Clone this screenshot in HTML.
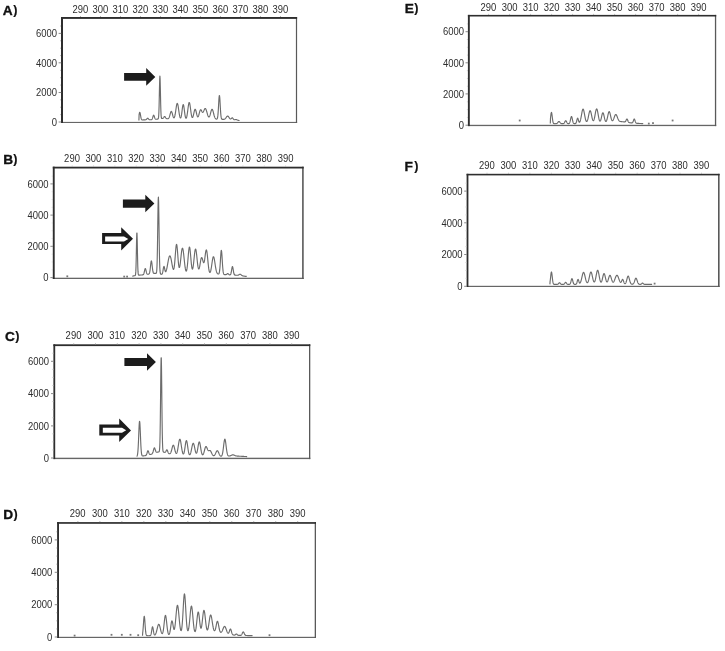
<!DOCTYPE html><html><head><meta charset="utf-8"><style>html,body{margin:0;padding:0;background:#fff;width:725px;height:651px;overflow:hidden}svg{display:block;will-change:transform}text{font-family:"Liberation Sans",sans-serif;-webkit-font-smoothing:antialiased}</style></head><body>
<svg width="725" height="651" viewBox="0 0 725 651">
<rect width="725" height="651" fill="#fff"/>
<rect x="61.0" y="121.9" width="236.10" height="1.1" fill="#666666"/>
<rect x="295.9" y="17.0" width="1.2" height="106.00" fill="#595959"/>
<rect x="61.0" y="17.0" width="236.10" height="1.9" fill="#2e2e2e"/>
<rect x="61.0" y="17.0" width="2.0" height="106.00" fill="#2e2e2e"/>
<text transform="translate(72.42,12.75) scale(0.86,1)" font-size="11.0" fill="#2e2e2e">290</text><text transform="translate(92.54,12.75) scale(0.86,1)" font-size="11.0" fill="#2e2e2e">300</text><text transform="translate(112.54,12.75) scale(0.86,1)" font-size="11.0" fill="#2e2e2e">310</text><text transform="translate(132.54,12.75) scale(0.86,1)" font-size="11.0" fill="#2e2e2e">320</text><text transform="translate(152.54,12.75) scale(0.86,1)" font-size="11.0" fill="#2e2e2e">330</text><text transform="translate(172.54,12.75) scale(0.86,1)" font-size="11.0" fill="#2e2e2e">340</text><text transform="translate(192.54,12.75) scale(0.86,1)" font-size="11.0" fill="#2e2e2e">350</text><text transform="translate(212.54,12.75) scale(0.86,1)" font-size="11.0" fill="#2e2e2e">360</text><text transform="translate(232.54,12.75) scale(0.86,1)" font-size="11.0" fill="#2e2e2e">370</text><text transform="translate(252.54,12.75) scale(0.86,1)" font-size="11.0" fill="#2e2e2e">380</text><text transform="translate(272.54,12.75) scale(0.86,1)" font-size="11.0" fill="#2e2e2e">390</text>
<text transform="translate(56.97,37.18) scale(0.86,1)" font-size="11.0" fill="#2e2e2e" text-anchor="end">6000</text>
<rect x="58.60" y="32.90" width="2.6" height="1" fill="#8a8a8a"/>
<text transform="translate(56.97,66.58) scale(0.86,1)" font-size="11.0" fill="#2e2e2e" text-anchor="end">4000</text>
<rect x="58.60" y="62.30" width="2.6" height="1" fill="#8a8a8a"/>
<text transform="translate(56.97,96.28) scale(0.86,1)" font-size="11.0" fill="#2e2e2e" text-anchor="end">2000</text>
<rect x="58.60" y="92.00" width="2.6" height="1" fill="#8a8a8a"/>
<text transform="translate(56.97,125.78) scale(0.86,1)" font-size="11.0" fill="#2e2e2e" text-anchor="end">0</text>
<rect x="58.60" y="121.50" width="2.6" height="1" fill="#8a8a8a"/>
<rect x="60.00" y="25.52" width="1.0" height="1" fill="#c4c4c4"/>
<rect x="60.00" y="40.28" width="1.0" height="1" fill="#c4c4c4"/>
<rect x="60.00" y="47.67" width="1.0" height="1" fill="#c4c4c4"/>
<rect x="60.00" y="55.05" width="1.0" height="1" fill="#c4c4c4"/>
<rect x="60.00" y="69.82" width="1.0" height="1" fill="#c4c4c4"/>
<rect x="60.00" y="77.20" width="1.0" height="1" fill="#c4c4c4"/>
<rect x="60.00" y="84.58" width="1.0" height="1" fill="#c4c4c4"/>
<rect x="60.00" y="99.35" width="1.0" height="1" fill="#c4c4c4"/>
<rect x="60.00" y="106.73" width="1.0" height="1" fill="#c4c4c4"/>
<rect x="60.00" y="114.12" width="1.0" height="1" fill="#c4c4c4"/>
<rect x="80.00" y="16.00" width="1" height="1" fill="#b0b0b0"/>
<rect x="100.00" y="16.00" width="1" height="1" fill="#b0b0b0"/>
<rect x="120.00" y="16.00" width="1" height="1" fill="#b0b0b0"/>
<rect x="140.00" y="16.00" width="1" height="1" fill="#b0b0b0"/>
<rect x="160.00" y="16.00" width="1" height="1" fill="#b0b0b0"/>
<rect x="180.00" y="16.00" width="1" height="1" fill="#b0b0b0"/>
<rect x="200.00" y="16.00" width="1" height="1" fill="#b0b0b0"/>
<rect x="220.00" y="16.00" width="1" height="1" fill="#b0b0b0"/>
<rect x="240.00" y="16.00" width="1" height="1" fill="#b0b0b0"/>
<rect x="260.00" y="16.00" width="1" height="1" fill="#b0b0b0"/>
<rect x="280.00" y="16.00" width="1" height="1" fill="#b0b0b0"/>
<text x="2.81" y="14.5" font-size="13.7" font-weight="bold" fill="#111" stroke="#111" stroke-width="0.35">A</text>
<text x="13.28" y="14.04" font-size="12.6" font-weight="bold" fill="#111" stroke="#111" stroke-width="0.15">)</text>
<rect x="52.8" y="277.7" width="250.90" height="1.3" fill="#666666"/>
<rect x="302.1" y="166.7" width="1.6" height="112.30" fill="#595959"/>
<rect x="52.8" y="166.7" width="250.90" height="1.8" fill="#2e2e2e"/>
<rect x="52.8" y="166.7" width="1.9" height="112.30" fill="#2e2e2e"/>
<text transform="translate(64.12,161.7) scale(0.86,1)" font-size="11.0" fill="#2e2e2e">290</text><text transform="translate(85.58,161.7) scale(0.86,1)" font-size="11.0" fill="#2e2e2e">300</text><text transform="translate(106.92,161.7) scale(0.86,1)" font-size="11.0" fill="#2e2e2e">310</text><text transform="translate(128.26,161.7) scale(0.86,1)" font-size="11.0" fill="#2e2e2e">320</text><text transform="translate(149.60,161.7) scale(0.86,1)" font-size="11.0" fill="#2e2e2e">330</text><text transform="translate(170.94,161.7) scale(0.86,1)" font-size="11.0" fill="#2e2e2e">340</text><text transform="translate(192.28,161.7) scale(0.86,1)" font-size="11.0" fill="#2e2e2e">350</text><text transform="translate(213.62,161.7) scale(0.86,1)" font-size="11.0" fill="#2e2e2e">360</text><text transform="translate(234.96,161.7) scale(0.86,1)" font-size="11.0" fill="#2e2e2e">370</text><text transform="translate(256.30,161.7) scale(0.86,1)" font-size="11.0" fill="#2e2e2e">380</text><text transform="translate(277.64,161.7) scale(0.86,1)" font-size="11.0" fill="#2e2e2e">390</text>
<text transform="translate(48.57,187.68) scale(0.86,1)" font-size="11.0" fill="#2e2e2e" text-anchor="end">6000</text>
<rect x="50.40" y="183.40" width="2.6" height="1" fill="#8a8a8a"/>
<text transform="translate(48.57,218.88) scale(0.86,1)" font-size="11.0" fill="#2e2e2e" text-anchor="end">4000</text>
<rect x="50.40" y="214.60" width="2.6" height="1" fill="#8a8a8a"/>
<text transform="translate(48.57,250.08) scale(0.86,1)" font-size="11.0" fill="#2e2e2e" text-anchor="end">2000</text>
<rect x="50.40" y="245.80" width="2.6" height="1" fill="#8a8a8a"/>
<text transform="translate(48.57,281.38) scale(0.86,1)" font-size="11.0" fill="#2e2e2e" text-anchor="end">0</text>
<rect x="50.40" y="277.10" width="2.6" height="1" fill="#8a8a8a"/>
<rect x="51.80" y="175.59" width="1.0" height="1" fill="#c4c4c4"/>
<rect x="51.80" y="191.21" width="1.0" height="1" fill="#c4c4c4"/>
<rect x="51.80" y="199.02" width="1.0" height="1" fill="#c4c4c4"/>
<rect x="51.80" y="206.83" width="1.0" height="1" fill="#c4c4c4"/>
<rect x="51.80" y="222.44" width="1.0" height="1" fill="#c4c4c4"/>
<rect x="51.80" y="230.25" width="1.0" height="1" fill="#c4c4c4"/>
<rect x="51.80" y="238.06" width="1.0" height="1" fill="#c4c4c4"/>
<rect x="51.80" y="253.68" width="1.0" height="1" fill="#c4c4c4"/>
<rect x="51.80" y="261.48" width="1.0" height="1" fill="#c4c4c4"/>
<rect x="51.80" y="269.29" width="1.0" height="1" fill="#c4c4c4"/>
<rect x="71.70" y="165.70" width="1" height="1" fill="#b0b0b0"/>
<rect x="93.04" y="165.70" width="1" height="1" fill="#b0b0b0"/>
<rect x="114.38" y="165.70" width="1" height="1" fill="#b0b0b0"/>
<rect x="135.72" y="165.70" width="1" height="1" fill="#b0b0b0"/>
<rect x="157.06" y="165.70" width="1" height="1" fill="#b0b0b0"/>
<rect x="178.40" y="165.70" width="1" height="1" fill="#b0b0b0"/>
<rect x="199.74" y="165.70" width="1" height="1" fill="#b0b0b0"/>
<rect x="221.08" y="165.70" width="1" height="1" fill="#b0b0b0"/>
<rect x="242.42" y="165.70" width="1" height="1" fill="#b0b0b0"/>
<rect x="263.76" y="165.70" width="1" height="1" fill="#b0b0b0"/>
<rect x="285.10" y="165.70" width="1" height="1" fill="#b0b0b0"/>
<text x="3.23" y="163.6" font-size="13.7" font-weight="bold" fill="#111" stroke="#111" stroke-width="0.35">B</text>
<text x="13.3" y="163.06" font-size="12.6" font-weight="bold" fill="#111" stroke="#111" stroke-width="0.15">)</text>
<rect x="53.4" y="457.7" width="256.90" height="1.4" fill="#666666"/>
<rect x="309.0" y="344.3" width="1.3" height="114.80" fill="#595959"/>
<rect x="53.4" y="344.3" width="256.90" height="1.8" fill="#2e2e2e"/>
<rect x="53.4" y="344.3" width="1.8" height="114.80" fill="#2e2e2e"/>
<text transform="translate(65.62,338.7) scale(0.86,1)" font-size="11.0" fill="#2e2e2e">290</text><text transform="translate(87.54,338.7) scale(0.86,1)" font-size="11.0" fill="#2e2e2e">300</text><text transform="translate(109.34,338.7) scale(0.86,1)" font-size="11.0" fill="#2e2e2e">310</text><text transform="translate(131.14,338.7) scale(0.86,1)" font-size="11.0" fill="#2e2e2e">320</text><text transform="translate(152.94,338.7) scale(0.86,1)" font-size="11.0" fill="#2e2e2e">330</text><text transform="translate(174.74,338.7) scale(0.86,1)" font-size="11.0" fill="#2e2e2e">340</text><text transform="translate(196.54,338.7) scale(0.86,1)" font-size="11.0" fill="#2e2e2e">350</text><text transform="translate(218.34,338.7) scale(0.86,1)" font-size="11.0" fill="#2e2e2e">360</text><text transform="translate(240.14,338.7) scale(0.86,1)" font-size="11.0" fill="#2e2e2e">370</text><text transform="translate(261.94,338.7) scale(0.86,1)" font-size="11.0" fill="#2e2e2e">380</text><text transform="translate(283.74,338.7) scale(0.86,1)" font-size="11.0" fill="#2e2e2e">390</text>
<text transform="translate(48.97,365.08) scale(0.86,1)" font-size="11.0" fill="#2e2e2e" text-anchor="end">6000</text>
<rect x="51.00" y="360.80" width="2.6" height="1" fill="#8a8a8a"/>
<text transform="translate(48.97,397.38) scale(0.86,1)" font-size="11.0" fill="#2e2e2e" text-anchor="end">4000</text>
<rect x="51.00" y="393.10" width="2.6" height="1" fill="#8a8a8a"/>
<text transform="translate(48.97,429.68) scale(0.86,1)" font-size="11.0" fill="#2e2e2e" text-anchor="end">2000</text>
<rect x="51.00" y="425.40" width="2.6" height="1" fill="#8a8a8a"/>
<text transform="translate(48.97,461.78) scale(0.86,1)" font-size="11.0" fill="#2e2e2e" text-anchor="end">0</text>
<rect x="51.00" y="457.50" width="2.6" height="1" fill="#8a8a8a"/>
<rect x="52.40" y="352.74" width="1.0" height="1" fill="#c4c4c4"/>
<rect x="52.40" y="368.86" width="1.0" height="1" fill="#c4c4c4"/>
<rect x="52.40" y="376.92" width="1.0" height="1" fill="#c4c4c4"/>
<rect x="52.40" y="384.98" width="1.0" height="1" fill="#c4c4c4"/>
<rect x="52.40" y="401.09" width="1.0" height="1" fill="#c4c4c4"/>
<rect x="52.40" y="409.15" width="1.0" height="1" fill="#c4c4c4"/>
<rect x="52.40" y="417.21" width="1.0" height="1" fill="#c4c4c4"/>
<rect x="52.40" y="433.32" width="1.0" height="1" fill="#c4c4c4"/>
<rect x="52.40" y="441.38" width="1.0" height="1" fill="#c4c4c4"/>
<rect x="52.40" y="449.44" width="1.0" height="1" fill="#c4c4c4"/>
<rect x="73.20" y="343.30" width="1" height="1" fill="#b0b0b0"/>
<rect x="95.00" y="343.30" width="1" height="1" fill="#b0b0b0"/>
<rect x="116.80" y="343.30" width="1" height="1" fill="#b0b0b0"/>
<rect x="138.60" y="343.30" width="1" height="1" fill="#b0b0b0"/>
<rect x="160.40" y="343.30" width="1" height="1" fill="#b0b0b0"/>
<rect x="182.20" y="343.30" width="1" height="1" fill="#b0b0b0"/>
<rect x="204.00" y="343.30" width="1" height="1" fill="#b0b0b0"/>
<rect x="225.80" y="343.30" width="1" height="1" fill="#b0b0b0"/>
<rect x="247.60" y="343.30" width="1" height="1" fill="#b0b0b0"/>
<rect x="269.40" y="343.30" width="1" height="1" fill="#b0b0b0"/>
<rect x="291.20" y="343.30" width="1" height="1" fill="#b0b0b0"/>
<text x="4.89" y="340.5" font-size="13.7" font-weight="bold" fill="#111" stroke="#111" stroke-width="0.35">C</text>
<text x="15.2" y="339.9" font-size="12.6" font-weight="bold" fill="#111" stroke="#111" stroke-width="0.15">)</text>
<rect x="57.1" y="636.8" width="258.90" height="1.2" fill="#666666"/>
<rect x="314.7" y="522.1" width="1.3" height="115.90" fill="#595959"/>
<rect x="57.1" y="522.1" width="258.90" height="1.7" fill="#2e2e2e"/>
<rect x="57.1" y="522.1" width="1.9" height="115.90" fill="#2e2e2e"/>
<text transform="translate(69.82,516.5) scale(0.86,1)" font-size="11.0" fill="#2e2e2e">290</text><text transform="translate(91.92,516.5) scale(0.86,1)" font-size="11.0" fill="#2e2e2e">300</text><text transform="translate(113.90,516.5) scale(0.86,1)" font-size="11.0" fill="#2e2e2e">310</text><text transform="translate(135.88,516.5) scale(0.86,1)" font-size="11.0" fill="#2e2e2e">320</text><text transform="translate(157.86,516.5) scale(0.86,1)" font-size="11.0" fill="#2e2e2e">330</text><text transform="translate(179.84,516.5) scale(0.86,1)" font-size="11.0" fill="#2e2e2e">340</text><text transform="translate(201.82,516.5) scale(0.86,1)" font-size="11.0" fill="#2e2e2e">350</text><text transform="translate(223.80,516.5) scale(0.86,1)" font-size="11.0" fill="#2e2e2e">360</text><text transform="translate(245.78,516.5) scale(0.86,1)" font-size="11.0" fill="#2e2e2e">370</text><text transform="translate(267.76,516.5) scale(0.86,1)" font-size="11.0" fill="#2e2e2e">380</text><text transform="translate(289.74,516.5) scale(0.86,1)" font-size="11.0" fill="#2e2e2e">390</text>
<text transform="translate(52.27,543.68) scale(0.86,1)" font-size="11.0" fill="#2e2e2e" text-anchor="end">6000</text>
<rect x="54.70" y="539.40" width="2.6" height="1" fill="#8a8a8a"/>
<text transform="translate(52.27,576.08) scale(0.86,1)" font-size="11.0" fill="#2e2e2e" text-anchor="end">4000</text>
<rect x="54.70" y="571.80" width="2.6" height="1" fill="#8a8a8a"/>
<text transform="translate(52.27,608.48) scale(0.86,1)" font-size="11.0" fill="#2e2e2e" text-anchor="end">2000</text>
<rect x="54.70" y="604.20" width="2.6" height="1" fill="#8a8a8a"/>
<text transform="translate(52.27,640.78) scale(0.86,1)" font-size="11.0" fill="#2e2e2e" text-anchor="end">0</text>
<rect x="54.70" y="636.50" width="2.6" height="1" fill="#8a8a8a"/>
<rect x="56.10" y="531.31" width="1.0" height="1" fill="#c4c4c4"/>
<rect x="56.10" y="547.49" width="1.0" height="1" fill="#c4c4c4"/>
<rect x="56.10" y="555.58" width="1.0" height="1" fill="#c4c4c4"/>
<rect x="56.10" y="563.67" width="1.0" height="1" fill="#c4c4c4"/>
<rect x="56.10" y="579.86" width="1.0" height="1" fill="#c4c4c4"/>
<rect x="56.10" y="587.95" width="1.0" height="1" fill="#c4c4c4"/>
<rect x="56.10" y="596.04" width="1.0" height="1" fill="#c4c4c4"/>
<rect x="56.10" y="612.23" width="1.0" height="1" fill="#c4c4c4"/>
<rect x="56.10" y="620.32" width="1.0" height="1" fill="#c4c4c4"/>
<rect x="56.10" y="628.41" width="1.0" height="1" fill="#c4c4c4"/>
<rect x="77.40" y="521.10" width="1" height="1" fill="#b0b0b0"/>
<rect x="99.38" y="521.10" width="1" height="1" fill="#b0b0b0"/>
<rect x="121.36" y="521.10" width="1" height="1" fill="#b0b0b0"/>
<rect x="143.34" y="521.10" width="1" height="1" fill="#b0b0b0"/>
<rect x="165.32" y="521.10" width="1" height="1" fill="#b0b0b0"/>
<rect x="187.30" y="521.10" width="1" height="1" fill="#b0b0b0"/>
<rect x="209.28" y="521.10" width="1" height="1" fill="#b0b0b0"/>
<rect x="231.26" y="521.10" width="1" height="1" fill="#b0b0b0"/>
<rect x="253.24" y="521.10" width="1" height="1" fill="#b0b0b0"/>
<rect x="275.22" y="521.10" width="1" height="1" fill="#b0b0b0"/>
<rect x="297.20" y="521.10" width="1" height="1" fill="#b0b0b0"/>
<text x="3.23" y="518.8" font-size="13.7" font-weight="bold" fill="#111" stroke="#111" stroke-width="0.35">D</text>
<text x="13.5" y="518.16" font-size="12.6" font-weight="bold" fill="#111" stroke="#111" stroke-width="0.15">)</text>
<rect x="467.9" y="124.8" width="248.30" height="1.3" fill="#666666"/>
<rect x="714.9" y="14.9" width="1.3" height="111.20" fill="#595959"/>
<rect x="467.9" y="14.9" width="248.30" height="1.6" fill="#2e2e2e"/>
<rect x="467.9" y="14.9" width="1.9" height="111.20" fill="#2e2e2e"/>
<text transform="translate(480.52,11.0) scale(0.86,1)" font-size="11.0" fill="#2e2e2e">290</text><text transform="translate(501.64,11.0) scale(0.86,1)" font-size="11.0" fill="#2e2e2e">300</text><text transform="translate(522.64,11.0) scale(0.86,1)" font-size="11.0" fill="#2e2e2e">310</text><text transform="translate(543.64,11.0) scale(0.86,1)" font-size="11.0" fill="#2e2e2e">320</text><text transform="translate(564.64,11.0) scale(0.86,1)" font-size="11.0" fill="#2e2e2e">330</text><text transform="translate(585.64,11.0) scale(0.86,1)" font-size="11.0" fill="#2e2e2e">340</text><text transform="translate(606.64,11.0) scale(0.86,1)" font-size="11.0" fill="#2e2e2e">350</text><text transform="translate(627.64,11.0) scale(0.86,1)" font-size="11.0" fill="#2e2e2e">360</text><text transform="translate(648.64,11.0) scale(0.86,1)" font-size="11.0" fill="#2e2e2e">370</text><text transform="translate(669.64,11.0) scale(0.86,1)" font-size="11.0" fill="#2e2e2e">380</text><text transform="translate(690.64,11.0) scale(0.86,1)" font-size="11.0" fill="#2e2e2e">390</text>
<text transform="translate(463.97,35.48) scale(0.86,1)" font-size="11.0" fill="#2e2e2e" text-anchor="end">6000</text>
<rect x="465.50" y="31.20" width="2.6" height="1" fill="#8a8a8a"/>
<text transform="translate(463.97,66.58) scale(0.86,1)" font-size="11.0" fill="#2e2e2e" text-anchor="end">4000</text>
<rect x="465.50" y="62.30" width="2.6" height="1" fill="#8a8a8a"/>
<text transform="translate(463.97,97.68) scale(0.86,1)" font-size="11.0" fill="#2e2e2e" text-anchor="end">2000</text>
<rect x="465.50" y="93.40" width="2.6" height="1" fill="#8a8a8a"/>
<text transform="translate(463.97,128.98) scale(0.86,1)" font-size="11.0" fill="#2e2e2e" text-anchor="end">0</text>
<rect x="465.50" y="124.70" width="2.6" height="1" fill="#8a8a8a"/>
<rect x="466.90" y="23.41" width="1.0" height="1" fill="#c4c4c4"/>
<rect x="466.90" y="38.99" width="1.0" height="1" fill="#c4c4c4"/>
<rect x="466.90" y="46.78" width="1.0" height="1" fill="#c4c4c4"/>
<rect x="466.90" y="54.58" width="1.0" height="1" fill="#c4c4c4"/>
<rect x="466.90" y="70.16" width="1.0" height="1" fill="#c4c4c4"/>
<rect x="466.90" y="77.95" width="1.0" height="1" fill="#c4c4c4"/>
<rect x="466.90" y="85.74" width="1.0" height="1" fill="#c4c4c4"/>
<rect x="466.90" y="101.33" width="1.0" height="1" fill="#c4c4c4"/>
<rect x="466.90" y="109.12" width="1.0" height="1" fill="#c4c4c4"/>
<rect x="466.90" y="116.91" width="1.0" height="1" fill="#c4c4c4"/>
<rect x="488.10" y="13.90" width="1" height="1" fill="#b0b0b0"/>
<rect x="509.10" y="13.90" width="1" height="1" fill="#b0b0b0"/>
<rect x="530.10" y="13.90" width="1" height="1" fill="#b0b0b0"/>
<rect x="551.10" y="13.90" width="1" height="1" fill="#b0b0b0"/>
<rect x="572.10" y="13.90" width="1" height="1" fill="#b0b0b0"/>
<rect x="593.10" y="13.90" width="1" height="1" fill="#b0b0b0"/>
<rect x="614.10" y="13.90" width="1" height="1" fill="#b0b0b0"/>
<rect x="635.10" y="13.90" width="1" height="1" fill="#b0b0b0"/>
<rect x="656.10" y="13.90" width="1" height="1" fill="#b0b0b0"/>
<rect x="677.10" y="13.90" width="1" height="1" fill="#b0b0b0"/>
<rect x="698.10" y="13.90" width="1" height="1" fill="#b0b0b0"/>
<text x="404.73" y="13.0" font-size="13.7" font-weight="bold" fill="#111" stroke="#111" stroke-width="0.35">E</text>
<text x="414.2" y="12.26" font-size="12.6" font-weight="bold" fill="#111" stroke="#111" stroke-width="0.15">)</text>
<rect x="466.6" y="285.8" width="253.00" height="1.2" fill="#666666"/>
<rect x="718.0" y="173.8" width="1.6" height="113.20" fill="#595959"/>
<rect x="466.6" y="173.8" width="253.00" height="1.6" fill="#2e2e2e"/>
<rect x="466.6" y="173.8" width="1.8" height="113.20" fill="#2e2e2e"/>
<text transform="translate(478.92,168.7) scale(0.86,1)" font-size="11.0" fill="#2e2e2e">290</text><text transform="translate(500.49,168.7) scale(0.86,1)" font-size="11.0" fill="#2e2e2e">300</text><text transform="translate(521.94,168.7) scale(0.86,1)" font-size="11.0" fill="#2e2e2e">310</text><text transform="translate(543.39,168.7) scale(0.86,1)" font-size="11.0" fill="#2e2e2e">320</text><text transform="translate(564.84,168.7) scale(0.86,1)" font-size="11.0" fill="#2e2e2e">330</text><text transform="translate(586.29,168.7) scale(0.86,1)" font-size="11.0" fill="#2e2e2e">340</text><text transform="translate(607.74,168.7) scale(0.86,1)" font-size="11.0" fill="#2e2e2e">350</text><text transform="translate(629.19,168.7) scale(0.86,1)" font-size="11.0" fill="#2e2e2e">360</text><text transform="translate(650.64,168.7) scale(0.86,1)" font-size="11.0" fill="#2e2e2e">370</text><text transform="translate(672.09,168.7) scale(0.86,1)" font-size="11.0" fill="#2e2e2e">380</text><text transform="translate(693.54,168.7) scale(0.86,1)" font-size="11.0" fill="#2e2e2e">390</text>
<text transform="translate(462.47,194.88) scale(0.86,1)" font-size="11.0" fill="#2e2e2e" text-anchor="end">6000</text>
<rect x="464.20" y="190.60" width="2.6" height="1" fill="#8a8a8a"/>
<text transform="translate(462.47,226.58) scale(0.86,1)" font-size="11.0" fill="#2e2e2e" text-anchor="end">4000</text>
<rect x="464.20" y="222.30" width="2.6" height="1" fill="#8a8a8a"/>
<text transform="translate(462.47,258.28) scale(0.86,1)" font-size="11.0" fill="#2e2e2e" text-anchor="end">2000</text>
<rect x="464.20" y="254.00" width="2.6" height="1" fill="#8a8a8a"/>
<text transform="translate(462.47,290.08) scale(0.86,1)" font-size="11.0" fill="#2e2e2e" text-anchor="end">0</text>
<rect x="464.20" y="285.80" width="2.6" height="1" fill="#8a8a8a"/>
<rect x="465.60" y="182.67" width="1.0" height="1" fill="#c4c4c4"/>
<rect x="465.60" y="198.53" width="1.0" height="1" fill="#c4c4c4"/>
<rect x="465.60" y="206.47" width="1.0" height="1" fill="#c4c4c4"/>
<rect x="465.60" y="214.40" width="1.0" height="1" fill="#c4c4c4"/>
<rect x="465.60" y="230.27" width="1.0" height="1" fill="#c4c4c4"/>
<rect x="465.60" y="238.20" width="1.0" height="1" fill="#c4c4c4"/>
<rect x="465.60" y="246.13" width="1.0" height="1" fill="#c4c4c4"/>
<rect x="465.60" y="262.00" width="1.0" height="1" fill="#c4c4c4"/>
<rect x="465.60" y="269.93" width="1.0" height="1" fill="#c4c4c4"/>
<rect x="465.60" y="277.87" width="1.0" height="1" fill="#c4c4c4"/>
<rect x="486.50" y="172.80" width="1" height="1" fill="#b0b0b0"/>
<rect x="507.95" y="172.80" width="1" height="1" fill="#b0b0b0"/>
<rect x="529.40" y="172.80" width="1" height="1" fill="#b0b0b0"/>
<rect x="550.85" y="172.80" width="1" height="1" fill="#b0b0b0"/>
<rect x="572.30" y="172.80" width="1" height="1" fill="#b0b0b0"/>
<rect x="593.75" y="172.80" width="1" height="1" fill="#b0b0b0"/>
<rect x="615.20" y="172.80" width="1" height="1" fill="#b0b0b0"/>
<rect x="636.65" y="172.80" width="1" height="1" fill="#b0b0b0"/>
<rect x="658.10" y="172.80" width="1" height="1" fill="#b0b0b0"/>
<rect x="679.55" y="172.80" width="1" height="1" fill="#b0b0b0"/>
<rect x="701.00" y="172.80" width="1" height="1" fill="#b0b0b0"/>
<text x="404.53" y="170.7" font-size="13.7" font-weight="bold" fill="#111" stroke="#111" stroke-width="0.35">F</text>
<text x="414.2" y="170.06" font-size="12.6" font-weight="bold" fill="#111" stroke="#111" stroke-width="0.15">)</text>
<path d="M138.90,120.60 L139.10,114.62 L139.30,113.52 L139.50,112.71 L139.70,112.32 L139.90,112.42 L140.10,112.99 L140.30,113.91 L140.50,115.04 L140.70,116.22 L140.90,117.29 L141.10,118.19 L141.30,118.86 L141.50,119.33 L141.70,119.63 L141.90,119.81 L142.10,119.90 L142.30,119.94 L142.50,119.95 L142.70,119.95 L142.90,119.94 L143.10,119.93 L143.30,119.91 L143.50,119.90 L143.70,119.89 L143.90,119.88 L144.10,119.87 L144.30,119.87 L144.50,119.86 L144.70,119.85 L144.90,119.84 L145.10,119.83 L145.30,119.82 L145.50,119.79 L145.70,119.75 L145.90,119.68 L146.10,119.58 L146.30,119.44 L146.50,119.25 L146.70,119.02 L146.90,118.78 L147.10,118.54 L147.30,118.35 L147.50,118.23 L147.70,118.20 L147.90,118.27 L148.10,118.43 L148.30,118.65 L148.50,118.90 L148.70,119.13 L148.90,119.34 L149.10,119.50 L149.30,119.62 L149.50,119.70 L149.70,119.75 L149.90,119.78 L150.10,119.79 L150.30,119.79 L150.50,119.79 L150.70,119.78 L150.90,119.77 L151.10,119.75 L151.30,119.71 L151.50,119.64 L151.70,119.53 L151.90,119.34 L152.10,119.05 L152.30,118.66 L152.50,118.13 L152.70,117.51 L152.90,116.83 L153.10,116.17 L153.30,115.63 L153.50,115.29 L153.70,115.20 L153.90,115.38 L154.10,115.80 L154.30,116.37 L154.50,117.01 L154.70,117.64 L154.90,118.18 L155.10,118.60 L155.30,118.90 L155.50,119.10 L155.70,119.21 L155.90,119.26 L156.10,119.28 L156.30,119.27 L156.50,119.25 L156.70,119.23 L156.90,119.20 L157.10,119.17 L157.30,119.14 L157.50,119.11 L157.70,119.07 L157.90,119.01 L158.10,118.88 L158.30,118.55 L158.50,117.68 L158.70,115.70 L158.90,111.83 L159.10,105.41 L159.30,96.60 L159.50,86.94 L159.70,79.15 L159.90,75.99 L160.10,78.71 L160.30,86.20 L160.50,95.79 L160.70,104.67 L160.90,111.22 L161.10,115.21 L161.30,117.24 L161.50,118.11 L161.70,118.43 L161.90,118.51 L162.10,118.52 L162.30,118.51 L162.50,118.47 L162.70,118.41 L162.90,118.33 L163.10,118.20 L163.30,118.02 L163.50,117.78 L163.70,117.50 L163.90,117.19 L164.10,116.90 L164.30,116.67 L164.50,116.52 L164.70,116.50 L164.90,116.61 L165.10,116.82 L165.30,117.12 L165.50,117.44 L165.70,117.76 L165.90,118.04 L166.10,118.27 L166.30,118.44 L166.50,118.57 L166.70,118.65 L166.90,118.71 L167.10,118.75 L167.30,118.77 L167.50,118.77 L167.70,118.76 L167.90,118.72 L168.10,118.65 L168.30,118.55 L168.50,118.38 L168.70,118.16 L168.90,117.86 L169.10,117.47 L169.30,116.99 L169.50,116.43 L169.70,115.78 L169.90,115.07 L170.10,114.33 L170.30,113.59 L170.50,112.90 L170.70,112.29 L170.90,111.81 L171.10,111.50 L171.30,111.38 L171.50,111.47 L171.70,111.75 L171.90,112.21 L172.10,112.82 L172.30,113.53 L172.50,114.29 L172.70,115.07 L172.90,115.81 L173.10,116.48 L173.30,117.04 L173.50,117.47 L173.70,117.74 L173.90,117.85 L174.10,117.79 L174.30,117.54 L174.50,117.11 L174.70,116.50 L174.90,115.70 L175.10,114.73 L175.30,113.60 L175.50,112.35 L175.70,111.00 L175.90,109.60 L176.10,108.21 L176.30,106.89 L176.50,105.70 L176.70,104.71 L176.90,103.97 L177.10,103.53 L177.30,103.40 L177.50,103.60 L177.70,104.12 L177.90,104.92 L178.10,105.97 L178.30,107.21 L178.50,108.57 L178.70,109.99 L178.90,111.42 L179.10,112.79 L179.30,114.06 L179.50,115.19 L179.70,116.16 L179.90,116.94 L180.10,117.51 L180.30,117.87 L180.50,118.00 L180.70,117.88 L180.90,117.52 L181.10,116.90 L181.30,116.02 L181.50,114.90 L181.70,113.56 L181.90,112.07 L182.10,110.49 L182.30,108.91 L182.50,107.45 L182.70,106.20 L182.90,105.26 L183.10,104.71 L183.30,104.60 L183.50,104.94 L183.70,105.69 L183.90,106.80 L184.10,108.18 L184.30,109.72 L184.50,111.32 L184.70,112.88 L184.90,114.32 L185.10,115.58 L185.30,116.61 L185.50,117.40 L185.70,117.93 L185.90,118.21 L186.10,118.24 L186.30,118.04 L186.50,117.61 L186.70,116.96 L186.90,116.09 L187.10,115.02 L187.30,113.78 L187.50,112.38 L187.70,110.87 L187.90,109.30 L188.10,107.75 L188.30,106.27 L188.50,104.95 L188.70,103.86 L188.90,103.05 L189.10,102.59 L189.30,102.50 L189.50,102.78 L189.70,103.41 L189.90,104.37 L190.10,105.58 L190.30,106.98 L190.50,108.49 L190.70,110.04 L190.90,111.56 L191.10,112.98 L191.30,114.25 L191.50,115.34 L191.70,116.22 L191.90,116.89 L192.10,117.32 L192.30,117.53 L192.50,117.53 L192.70,117.31 L192.90,116.91 L193.10,116.34 L193.30,115.62 L193.50,114.80 L193.70,113.89 L193.90,112.96 L194.10,112.04 L194.30,111.19 L194.50,110.45 L194.70,109.87 L194.90,109.47 L195.10,109.30 L195.30,109.34 L195.50,109.61 L195.70,110.09 L195.90,110.73 L196.10,111.50 L196.30,112.36 L196.50,113.25 L196.70,114.12 L196.90,114.92 L197.10,115.62 L197.30,116.19 L197.50,116.60 L197.70,116.83 L197.90,116.88 L198.10,116.75 L198.30,116.46 L198.50,116.00 L198.70,115.42 L198.90,114.72 L199.10,113.96 L199.30,113.17 L199.50,112.37 L199.70,111.63 L199.90,110.97 L200.10,110.42 L200.30,110.01 L200.50,109.76 L200.70,109.67 L200.90,109.74 L201.10,109.94 L201.30,110.25 L201.50,110.63 L201.70,111.04 L201.90,111.45 L202.10,111.82 L202.30,112.11 L202.50,112.30 L202.70,112.37 L202.90,112.33 L203.10,112.16 L203.30,111.88 L203.50,111.51 L203.70,111.08 L203.90,110.61 L204.10,110.12 L204.30,109.66 L204.50,109.24 L204.70,108.90 L204.90,108.65 L205.10,108.52 L205.30,108.50 L205.50,108.60 L205.70,108.83 L205.90,109.18 L206.10,109.64 L206.30,110.19 L206.50,110.81 L206.70,111.48 L206.90,112.19 L207.10,112.92 L207.30,113.63 L207.50,114.31 L207.70,114.95 L207.90,115.53 L208.10,116.02 L208.30,116.43 L208.50,116.73 L208.70,116.92 L208.90,117.00 L209.10,116.94 L209.30,116.77 L209.50,116.46 L209.70,116.04 L209.90,115.51 L210.10,114.88 L210.30,114.17 L210.50,113.41 L210.70,112.63 L210.90,111.86 L211.10,111.14 L211.30,110.50 L211.50,109.97 L211.70,109.58 L211.90,109.35 L212.10,109.30 L212.30,109.41 L212.50,109.70 L212.70,110.15 L212.90,110.72 L213.10,111.40 L213.30,112.16 L213.50,112.95 L213.70,113.75 L213.90,114.54 L214.10,115.28 L214.30,115.97 L214.50,116.59 L214.70,117.13 L214.90,117.59 L215.10,117.97 L215.30,118.29 L215.50,118.54 L215.70,118.73 L215.90,118.88 L216.10,118.99 L216.30,119.06 L216.50,119.10 L216.70,119.09 L216.90,119.02 L217.10,118.84 L217.30,118.47 L217.50,117.82 L217.70,116.76 L217.90,115.15 L218.10,112.90 L218.30,110.00 L218.50,106.61 L218.70,103.01 L218.90,99.65 L219.10,97.03 L219.30,95.59 L219.50,95.58 L219.70,97.01 L219.90,99.63 L220.10,102.99 L220.30,106.60 L220.50,110.01 L220.70,112.93 L220.90,115.20 L221.10,116.83 L221.30,117.92 L221.50,118.59 L221.70,118.98 L221.90,119.19 L222.10,119.30 L222.30,119.36 L222.50,119.38 L222.70,119.40 L222.90,119.41 L223.10,119.41 L223.30,119.40 L223.50,119.39 L223.70,119.38 L223.90,119.35 L224.10,119.30 L224.30,119.24 L224.50,119.16 L224.70,119.05 L224.90,118.92 L225.10,118.76 L225.30,118.57 L225.50,118.35 L225.70,118.10 L225.90,117.83 L226.10,117.55 L226.30,117.27 L226.50,116.99 L226.70,116.72 L226.90,116.50 L227.10,116.31 L227.30,116.18 L227.50,116.11 L227.70,116.10 L227.90,116.16 L228.10,116.29 L228.30,116.47 L228.50,116.70 L228.70,116.97 L228.90,117.26 L229.10,117.57 L229.30,117.87 L229.50,118.16 L229.70,118.42 L229.90,118.64 L230.10,118.81 L230.30,118.93 L230.50,118.98 L230.70,118.96 L230.90,118.86 L231.10,118.71 L231.30,118.50 L231.50,118.28 L231.70,118.07 L231.90,117.90 L232.10,117.80 L232.30,117.80 L232.50,117.89 L232.70,118.08 L232.90,118.33 L233.10,118.61 L233.30,118.90 L233.50,119.17 L233.70,119.39 L233.90,119.57 L234.10,119.69 L234.30,119.76 L234.50,119.78 L234.70,119.77 L234.90,119.73 L235.10,119.67 L235.30,119.61 L235.50,119.56 L235.70,119.52 L235.90,119.50 L236.10,119.51 L236.30,119.55 L236.50,119.61 L236.70,119.70 L236.90,119.80 L237.10,119.90 L237.30,120.00 L237.50,120.10 L237.70,120.18 L237.90,120.25 L238.10,120.31 L238.30,120.36 L238.50,120.39 L238.70,120.43 L238.90,120.45 L239.10,120.48 L239.30,120.50 L239.50,120.70" fill="none" stroke="#6c6c6c" stroke-width="1.15" stroke-linejoin="round"/>
<path d="M132.60,276.60 L132.80,276.02 L133.00,275.99 L133.20,275.95 L133.40,275.91 L133.60,275.88 L133.80,275.84 L134.00,275.80 L134.20,275.77 L134.40,275.73 L134.60,275.70 L134.80,275.66 L135.00,275.60 L135.20,275.46 L135.40,275.08 L135.60,274.05 L135.80,271.64 L136.00,266.89 L136.20,259.18 L136.40,249.17 L136.60,239.29 L136.80,233.05 L137.00,233.08 L137.20,239.35 L137.40,249.21 L137.60,259.15 L137.80,266.76 L138.00,271.42 L138.20,273.75 L138.40,274.72 L138.60,275.04 L138.80,275.13 L139.00,275.14 L139.20,275.13 L139.40,275.11 L139.60,275.10 L139.80,275.09 L140.00,275.07 L140.20,275.06 L140.40,275.05 L140.60,275.04 L140.80,275.02 L141.00,275.01 L141.20,275.00 L141.40,274.99 L141.60,274.98 L141.80,274.96 L142.00,274.95 L142.20,274.93 L142.40,274.92 L142.60,274.89 L142.80,274.85 L143.00,274.78 L143.20,274.67 L143.40,274.48 L143.60,274.18 L143.80,273.73 L144.00,273.13 L144.20,272.35 L144.40,271.45 L144.60,270.50 L144.80,269.62 L145.00,268.93 L145.20,268.55 L145.40,268.55 L145.60,268.91 L145.80,269.57 L146.00,270.41 L146.20,271.32 L146.40,272.17 L146.60,272.88 L146.80,273.43 L147.00,273.81 L147.20,274.05 L147.40,274.19 L147.60,274.25 L147.80,274.27 L148.00,274.26 L148.20,274.24 L148.40,274.20 L148.60,274.14 L148.80,274.04 L149.00,273.89 L149.20,273.65 L149.40,273.26 L149.60,272.66 L149.80,271.78 L150.00,270.58 L150.20,269.05 L150.40,267.27 L150.60,265.37 L150.80,263.55 L151.00,262.07 L151.20,261.13 L151.40,260.90 L151.60,261.41 L151.80,262.56 L152.00,264.16 L152.20,265.99 L152.40,267.81 L152.60,269.43 L152.80,270.76 L153.00,271.75 L153.20,272.45 L153.40,272.90 L153.60,273.17 L153.80,273.32 L154.00,273.39 L154.20,273.43 L154.40,273.44 L154.60,273.44 L154.80,273.44 L155.00,273.44 L155.20,273.44 L155.40,273.44 L155.60,273.44 L155.80,273.43 L156.00,273.39 L156.20,273.24 L156.40,272.85 L156.60,271.89 L156.80,269.87 L157.00,266.02 L157.20,259.51 L157.40,249.78 L157.60,237.03 L157.80,222.67 L158.00,209.26 L158.20,199.88 L158.40,197.01 L158.60,201.44 L158.80,211.97 L159.00,225.90 L159.20,240.16 L159.40,252.42 L159.60,261.52 L159.80,267.47 L160.00,270.93 L160.20,272.74 L160.40,273.60 L160.60,273.98 L160.80,274.15 L161.00,274.24 L161.20,274.28 L161.40,274.31 L161.60,274.29 L161.80,274.23 L162.00,274.07 L162.20,273.79 L162.40,273.32 L162.60,272.64 L162.80,271.72 L163.00,270.61 L163.20,269.39 L163.40,268.21 L163.60,267.22 L163.80,266.58 L164.00,266.40 L164.20,266.69 L164.40,267.39 L164.60,268.35 L164.80,269.38 L165.00,270.34 L165.20,271.09 L165.40,271.56 L165.60,271.74 L165.80,271.65 L166.00,271.33 L166.20,270.82 L166.40,270.16 L166.60,269.38 L166.80,268.51 L167.00,267.55 L167.20,266.53 L167.40,265.45 L167.60,264.34 L167.80,263.22 L168.00,262.10 L168.20,261.01 L168.40,259.96 L168.60,259.00 L168.80,258.12 L169.00,257.37 L169.20,256.76 L169.40,256.29 L169.60,256.00 L169.80,255.88 L170.00,255.94 L170.20,256.18 L170.40,256.58 L170.60,257.15 L170.80,257.87 L171.00,258.71 L171.20,259.66 L171.40,260.69 L171.60,261.78 L171.80,262.91 L172.00,264.03 L172.20,265.13 L172.40,266.17 L172.60,267.12 L172.80,267.96 L173.00,268.63 L173.20,269.11 L173.40,269.36 L173.60,269.32 L173.80,268.97 L174.00,268.26 L174.20,267.17 L174.40,265.69 L174.60,263.83 L174.80,261.64 L175.00,259.17 L175.20,256.52 L175.40,253.82 L175.60,251.21 L175.80,248.83 L176.00,246.85 L176.20,245.39 L176.40,244.55 L176.60,244.40 L176.80,244.93 L177.00,246.13 L177.20,247.89 L177.40,250.10 L177.60,252.62 L177.80,255.28 L178.00,257.94 L178.20,260.44 L178.40,262.67 L178.60,264.54 L178.80,265.98 L179.00,266.96 L179.20,267.48 L179.40,267.54 L179.60,267.16 L179.80,266.40 L180.00,265.29 L180.20,263.90 L180.40,262.28 L180.60,260.49 L180.80,258.61 L181.00,256.70 L181.20,254.84 L181.40,253.09 L181.60,251.53 L181.80,250.21 L182.00,249.19 L182.20,248.50 L182.40,248.19 L182.60,248.25 L182.80,248.70 L183.00,249.49 L183.20,250.62 L183.40,252.02 L183.60,253.65 L183.80,255.44 L184.00,257.33 L184.20,259.26 L184.40,261.17 L184.60,263.02 L184.80,264.75 L185.00,266.32 L185.20,267.71 L185.40,268.89 L185.60,269.84 L185.80,270.54 L186.00,270.97 L186.20,271.13 L186.40,270.98 L186.60,270.53 L186.80,269.75 L187.00,268.64 L187.20,267.21 L187.40,265.47 L187.60,263.46 L187.80,261.23 L188.00,258.85 L188.20,256.43 L188.40,254.07 L188.60,251.88 L188.80,250.00 L189.00,248.52 L189.20,247.53 L189.40,247.09 L189.60,247.24 L189.80,247.96 L190.00,249.21 L190.20,250.90 L190.40,252.94 L190.60,255.20 L190.80,257.57 L191.00,259.92 L191.20,262.15 L191.40,264.17 L191.60,265.89 L191.80,267.27 L192.00,268.28 L192.20,268.89 L192.40,269.11 L192.60,268.93 L192.80,268.39 L193.00,267.50 L193.20,266.29 L193.40,264.81 L193.60,263.10 L193.80,261.23 L194.00,259.26 L194.20,257.27 L194.40,255.33 L194.60,253.53 L194.80,251.95 L195.00,250.66 L195.20,249.73 L195.40,249.20 L195.60,249.10 L195.80,249.42 L196.00,250.17 L196.20,251.29 L196.40,252.73 L196.60,254.42 L196.80,256.29 L197.00,258.24 L197.20,260.20 L197.40,262.08 L197.60,263.83 L197.80,265.38 L198.00,266.69 L198.20,267.72 L198.40,268.46 L198.60,268.89 L198.80,269.02 L199.00,268.86 L199.20,268.42 L199.40,267.74 L199.60,266.86 L199.80,265.81 L200.00,264.64 L200.20,263.41 L200.40,262.18 L200.60,260.99 L200.80,259.91 L201.00,258.98 L201.20,258.25 L201.40,257.75 L201.60,257.50 L201.80,257.50 L202.00,257.75 L202.20,258.20 L202.40,258.84 L202.60,259.59 L202.80,260.39 L203.00,261.17 L203.20,261.87 L203.40,262.40 L203.60,262.72 L203.80,262.76 L204.00,262.50 L204.20,261.93 L204.40,261.05 L204.60,259.89 L204.80,258.51 L205.00,256.98 L205.20,255.39 L205.40,253.84 L205.60,252.43 L205.80,251.26 L206.00,250.41 L206.20,249.95 L206.40,249.91 L206.60,250.33 L206.80,251.17 L207.00,252.40 L207.20,253.97 L207.40,255.79 L207.60,257.78 L207.80,259.85 L208.00,261.92 L208.20,263.91 L208.40,265.77 L208.60,267.43 L208.80,268.88 L209.00,270.08 L209.20,271.04 L209.40,271.75 L209.60,272.22 L209.80,272.45 L210.00,272.46 L210.20,272.26 L210.40,271.86 L210.60,271.26 L210.80,270.49 L211.00,269.55 L211.20,268.45 L211.40,267.23 L211.60,265.91 L211.80,264.53 L212.00,263.12 L212.20,261.74 L212.40,260.43 L212.60,259.26 L212.80,258.26 L213.00,257.48 L213.20,256.95 L213.40,256.71 L213.60,256.75 L213.80,257.08 L214.00,257.67 L214.20,258.51 L214.40,259.54 L214.60,260.73 L214.80,262.03 L215.00,263.38 L215.20,264.74 L215.40,266.06 L215.60,267.31 L215.80,268.47 L216.00,269.51 L216.20,270.43 L216.40,271.22 L216.60,271.89 L216.80,272.44 L217.00,272.89 L217.20,273.24 L217.40,273.51 L217.60,273.72 L217.80,273.87 L218.00,273.98 L218.20,274.04 L218.40,274.05 L218.60,274.00 L218.80,273.85 L219.00,273.55 L219.20,273.03 L219.40,272.20 L219.60,270.94 L219.80,269.18 L220.00,266.88 L220.20,264.07 L220.40,260.90 L220.60,257.62 L220.80,254.58 L221.00,252.16 L221.20,250.69 L221.40,250.40 L221.60,251.33 L221.80,253.33 L222.00,256.14 L222.20,259.37 L222.40,262.66 L222.60,265.71 L222.80,268.30 L223.00,270.36 L223.20,271.89 L223.40,272.95 L223.60,273.65 L223.80,274.08 L224.00,274.34 L224.20,274.49 L224.40,274.57 L224.60,274.62 L224.80,274.65 L225.00,274.67 L225.20,274.68 L225.40,274.69 L225.60,274.69 L225.80,274.67 L226.00,274.64 L226.20,274.57 L226.40,274.48 L226.60,274.34 L226.80,274.18 L227.00,274.00 L227.20,273.83 L227.40,273.69 L227.60,273.61 L227.80,273.60 L228.00,273.67 L228.20,273.80 L228.40,273.98 L228.60,274.18 L228.80,274.37 L229.00,274.54 L229.20,274.67 L229.40,274.77 L229.60,274.83 L229.80,274.86 L230.00,274.84 L230.20,274.78 L230.40,274.64 L230.60,274.38 L230.80,273.96 L231.00,273.34 L231.20,272.49 L231.40,271.42 L231.60,270.19 L231.80,268.93 L232.00,267.80 L232.20,266.97 L232.40,266.60 L232.60,266.73 L232.80,267.37 L233.00,268.38 L233.20,269.62 L233.40,270.90 L233.60,272.07 L233.80,273.05 L234.00,273.80 L234.20,274.34 L234.40,274.68 L234.60,274.90 L234.80,275.03 L235.00,275.10 L235.20,275.14 L235.40,275.16 L235.60,275.18 L235.80,275.20 L236.00,275.21 L236.20,275.22 L236.40,275.23 L236.60,275.25 L236.80,275.25 L237.00,275.26 L237.20,275.26 L237.40,275.25 L237.60,275.24 L237.80,275.21 L238.00,275.16 L238.20,275.10 L238.40,275.02 L238.60,274.91 L238.80,274.79 L239.00,274.66 L239.20,274.53 L239.40,274.41 L239.60,274.31 L239.80,274.23 L240.00,274.20 L240.20,274.21 L240.40,274.27 L240.60,274.37 L240.80,274.50 L241.00,274.67 L241.20,274.84 L241.40,275.02 L241.60,275.19 L241.80,275.35 L242.00,275.49 L242.20,275.61 L242.40,275.71 L242.60,275.79 L242.80,275.86 L243.00,275.92 L243.20,275.96 L243.40,276.01 L243.60,276.04 L243.80,276.08 L244.00,276.11 L244.20,276.14 L244.40,276.17 L244.60,276.20 L244.80,276.22 L245.00,276.25 L245.20,276.28 L245.40,276.31 L245.60,276.33 L245.80,276.35 L246.00,276.38 L246.20,276.40 L246.40,276.42 L246.60,276.70" fill="none" stroke="#6c6c6c" stroke-width="1.15" stroke-linejoin="round"/>
<path d="M136.90,456.70 L137.10,455.88 L137.30,455.41 L137.50,454.60 L137.70,453.31 L137.90,451.37 L138.10,448.63 L138.30,445.04 L138.50,440.67 L138.70,435.79 L138.90,430.83 L139.10,426.38 L139.30,423.06 L139.50,421.35 L139.70,421.55 L139.90,423.60 L140.10,427.18 L140.30,431.76 L140.50,436.72 L140.70,441.49 L140.90,445.68 L141.10,449.06 L141.30,451.58 L141.50,453.34 L141.70,454.48 L141.90,455.17 L142.10,455.56 L142.30,455.76 L142.50,455.86 L142.70,455.89 L142.90,455.90 L143.10,455.89 L143.30,455.88 L143.50,455.86 L143.70,455.84 L143.90,455.82 L144.10,455.80 L144.30,455.78 L144.50,455.76 L144.70,455.73 L144.90,455.71 L145.10,455.68 L145.30,455.64 L145.50,455.59 L145.70,455.51 L145.90,455.40 L146.10,455.23 L146.30,454.97 L146.50,454.60 L146.70,454.11 L146.90,453.51 L147.10,452.81 L147.30,452.10 L147.50,451.46 L147.70,450.97 L147.90,450.72 L148.10,450.75 L148.30,451.03 L148.50,451.51 L148.70,452.11 L148.90,452.73 L149.10,453.30 L149.30,453.76 L149.50,454.10 L149.70,454.32 L149.90,454.44 L150.10,454.49 L150.30,454.49 L150.50,454.46 L150.70,454.41 L150.90,454.35 L151.10,454.29 L151.30,454.22 L151.50,454.14 L151.70,454.04 L151.90,453.92 L152.10,453.76 L152.30,453.55 L152.50,453.25 L152.70,452.86 L152.90,452.34 L153.10,451.71 L153.30,450.97 L153.50,450.18 L153.70,449.40 L153.90,448.72 L154.10,448.21 L154.30,447.93 L154.50,447.93 L154.70,448.19 L154.90,448.66 L155.10,449.26 L155.30,449.92 L155.50,450.55 L155.70,451.10 L155.90,451.54 L156.10,451.86 L156.30,452.08 L156.50,452.20 L156.70,452.26 L156.90,452.27 L157.10,452.25 L157.30,452.22 L157.50,452.18 L157.70,452.14 L157.90,452.10 L158.10,452.05 L158.30,452.01 L158.50,451.97 L158.70,451.93 L158.90,451.85 L159.10,451.68 L159.30,451.23 L159.50,450.12 L159.70,447.64 L159.90,442.70 L160.10,434.06 L160.30,420.87 L160.50,403.57 L160.70,384.48 L160.90,367.73 L161.10,357.84 L161.30,357.83 L161.50,367.70 L161.70,384.45 L161.90,403.55 L162.10,420.89 L162.30,434.10 L162.50,442.77 L162.70,447.74 L162.90,450.24 L163.10,451.37 L163.30,451.83 L163.50,452.02 L163.70,452.11 L163.90,452.17 L164.10,452.22 L164.30,452.26 L164.50,452.30 L164.70,452.32 L164.90,452.32 L165.10,452.27 L165.30,452.17 L165.50,451.99 L165.70,451.72 L165.90,451.36 L166.10,450.94 L166.30,450.52 L166.50,450.14 L166.70,449.88 L166.90,449.80 L167.10,449.92 L167.30,450.23 L167.50,450.69 L167.70,451.24 L167.90,451.80 L168.10,452.32 L168.30,452.76 L168.50,453.11 L168.70,453.37 L168.90,453.54 L169.10,453.66 L169.30,453.72 L169.50,453.74 L169.70,453.71 L169.90,453.64 L170.10,453.52 L170.30,453.34 L170.50,453.09 L170.70,452.75 L170.90,452.33 L171.10,451.82 L171.30,451.22 L171.50,450.53 L171.70,449.78 L171.90,448.99 L172.10,448.18 L172.30,447.41 L172.50,446.69 L172.70,446.08 L172.90,445.61 L173.10,445.31 L173.30,445.20 L173.50,445.29 L173.70,445.58 L173.90,446.05 L174.10,446.67 L174.30,447.42 L174.50,448.24 L174.70,449.11 L174.90,449.97 L175.10,450.78 L175.30,451.53 L175.50,452.17 L175.70,452.70 L175.90,453.09 L176.10,453.33 L176.30,453.42 L176.50,453.35 L176.70,453.12 L176.90,452.73 L177.10,452.16 L177.30,451.44 L177.50,450.56 L177.70,449.53 L177.90,448.39 L178.10,447.15 L178.30,445.86 L178.50,444.55 L178.70,443.28 L178.90,442.09 L179.10,441.06 L179.30,440.21 L179.50,439.60 L179.70,439.26 L179.90,439.21 L180.10,439.44 L180.30,439.96 L180.50,440.73 L180.70,441.71 L180.90,442.86 L181.10,444.13 L181.30,445.47 L181.50,446.82 L181.70,448.13 L181.90,449.36 L182.10,450.49 L182.30,451.49 L182.50,452.34 L182.70,453.02 L182.90,453.53 L183.10,453.86 L183.30,454.00 L183.50,453.95 L183.70,453.70 L183.90,453.25 L184.10,452.60 L184.30,451.74 L184.50,450.69 L184.70,449.47 L184.90,448.13 L185.10,446.72 L185.30,445.29 L185.50,443.94 L185.70,442.72 L185.90,441.73 L186.10,441.02 L186.30,440.65 L186.50,440.64 L186.70,440.99 L186.90,441.68 L187.10,442.66 L187.30,443.88 L187.50,445.24 L187.70,446.68 L187.90,448.13 L188.10,449.51 L188.30,450.77 L188.50,451.88 L188.70,452.82 L188.90,453.57 L189.10,454.13 L189.30,454.51 L189.50,454.72 L189.70,454.76 L189.90,454.66 L190.10,454.42 L190.30,454.04 L190.50,453.53 L190.70,452.90 L190.90,452.16 L191.10,451.32 L191.30,450.40 L191.50,449.42 L191.70,448.40 L191.90,447.38 L192.10,446.41 L192.30,445.50 L192.50,444.71 L192.70,444.07 L192.90,443.61 L193.10,443.34 L193.30,443.29 L193.50,443.46 L193.70,443.84 L193.90,444.40 L194.10,445.13 L194.30,445.98 L194.50,446.93 L194.70,447.92 L194.90,448.92 L195.10,449.89 L195.30,450.79 L195.50,451.58 L195.70,452.25 L195.90,452.77 L196.10,453.11 L196.30,453.26 L196.50,453.21 L196.70,452.96 L196.90,452.49 L197.10,451.83 L197.30,450.98 L197.50,449.96 L197.70,448.82 L197.90,447.60 L198.10,446.36 L198.30,445.16 L198.50,444.06 L198.70,443.14 L198.90,442.44 L199.10,442.02 L199.30,441.89 L199.50,442.08 L199.70,442.56 L199.90,443.31 L200.10,444.27 L200.30,445.41 L200.50,446.64 L200.70,447.92 L200.90,449.17 L201.10,450.36 L201.30,451.45 L201.50,452.40 L201.70,453.19 L201.90,453.83 L202.10,454.30 L202.30,454.63 L202.50,454.80 L202.70,454.83 L202.90,454.73 L203.10,454.50 L203.30,454.16 L203.50,453.71 L203.70,453.16 L203.90,452.53 L204.10,451.82 L204.30,451.07 L204.50,450.29 L204.70,449.51 L204.90,448.77 L205.10,448.08 L205.30,447.50 L205.50,447.03 L205.70,446.70 L205.90,446.52 L206.10,446.51 L206.30,446.64 L206.50,446.90 L206.70,447.28 L206.90,447.74 L207.10,448.24 L207.30,448.76 L207.50,449.26 L207.70,449.71 L207.90,450.09 L208.10,450.38 L208.30,450.59 L208.50,450.70 L208.70,450.74 L208.90,450.72 L209.10,450.66 L209.30,450.58 L209.50,450.51 L209.70,450.47 L209.90,450.47 L210.10,450.54 L210.30,450.68 L210.50,450.88 L210.70,451.16 L210.90,451.49 L211.10,451.88 L211.30,452.30 L211.50,452.73 L211.70,453.17 L211.90,453.60 L212.10,454.01 L212.30,454.39 L212.50,454.72 L212.70,455.01 L212.90,455.25 L213.10,455.44 L213.30,455.57 L213.50,455.66 L213.70,455.69 L213.90,455.67 L214.10,455.59 L214.30,455.46 L214.50,455.28 L214.70,455.04 L214.90,454.74 L215.10,454.40 L215.30,454.01 L215.50,453.59 L215.70,453.14 L215.90,452.68 L216.10,452.23 L216.30,451.81 L216.50,451.43 L216.70,451.12 L216.90,450.88 L217.10,450.74 L217.30,450.70 L217.50,450.76 L217.70,450.92 L217.90,451.18 L218.10,451.51 L218.30,451.91 L218.50,452.35 L218.70,452.82 L218.90,453.29 L219.10,453.76 L219.30,454.20 L219.50,454.61 L219.70,454.98 L219.90,455.30 L220.10,455.57 L220.30,455.79 L220.50,455.96 L220.70,456.08 L220.90,456.15 L221.10,456.16 L221.30,456.11 L221.50,455.98 L221.70,455.77 L221.90,455.44 L222.10,454.98 L222.30,454.37 L222.50,453.57 L222.70,452.59 L222.90,451.40 L223.10,450.03 L223.30,448.50 L223.50,446.86 L223.70,445.18 L223.90,443.55 L224.10,442.06 L224.30,440.80 L224.50,439.86 L224.70,439.31 L224.90,439.18 L225.10,439.50 L225.30,440.22 L225.50,441.30 L225.70,442.67 L225.90,444.21 L226.10,445.86 L226.30,447.50 L226.50,449.07 L226.70,450.50 L226.90,451.76 L227.10,452.83 L227.30,453.70 L227.50,454.40 L227.70,454.92 L227.90,455.31 L228.10,455.59 L228.30,455.78 L228.50,455.90 L228.70,455.98 L228.90,456.01 L229.10,456.03 L229.30,456.02 L229.50,456.00 L229.70,455.96 L229.90,455.92 L230.10,455.86 L230.30,455.80 L230.50,455.73 L230.70,455.64 L230.90,455.55 L231.10,455.46 L231.30,455.36 L231.50,455.26 L231.70,455.16 L231.90,455.06 L232.10,454.98 L232.30,454.91 L232.50,454.85 L232.70,454.82 L232.90,454.80 L233.10,454.80 L233.30,454.83 L233.50,454.88 L233.70,454.94 L233.90,455.02 L234.10,455.11 L234.30,455.20 L234.50,455.30 L234.70,455.40 L234.90,455.50 L235.10,455.59 L235.30,455.67 L235.50,455.75 L235.70,455.82 L235.90,455.87 L236.10,455.92 L236.30,455.97 L236.50,456.00 L236.70,456.03 L236.90,456.05 L237.10,456.07 L237.30,456.09 L237.50,456.11 L237.70,456.12 L237.90,456.13 L238.10,456.14 L238.30,456.15 L238.50,456.16 L238.70,456.17 L238.90,456.18 L239.10,456.19 L239.30,456.20 L239.50,456.21 L239.70,456.22 L239.90,456.23 L240.10,456.24 L240.30,456.25 L240.50,456.26 L240.70,456.27 L240.90,456.28 L241.10,456.29 L241.30,456.30 L241.50,456.31 L241.70,456.32 L241.90,456.33 L242.10,456.35 L242.30,456.36 L242.50,456.37 L242.70,456.38 L242.90,456.39 L243.10,456.40 L243.30,456.41 L243.50,456.42 L243.70,456.43 L243.90,456.44 L244.10,456.46 L244.30,456.47 L244.50,456.48 L244.70,456.49 L244.90,456.50 L245.10,456.51 L245.30,456.52 L245.50,456.53 L245.70,456.54 L245.90,456.55 L246.10,456.56 L246.30,456.56 L246.50,456.57 L246.70,456.58 L247.00,456.80" fill="none" stroke="#6c6c6c" stroke-width="1.15" stroke-linejoin="round"/>
<path d="M142.50,635.70 L142.70,632.73 L142.90,631.03 L143.10,628.79 L143.30,626.11 L143.50,623.20 L143.70,620.38 L143.90,618.07 L144.10,616.63 L144.30,616.33 L144.50,617.22 L144.70,619.13 L144.90,621.75 L145.10,624.67 L145.30,627.50 L145.50,629.98 L145.70,631.95 L145.90,633.39 L146.10,634.36 L146.30,634.97 L146.50,635.33 L146.70,635.52 L146.90,635.62 L147.10,635.67 L147.30,635.69 L147.50,635.69 L147.70,635.70 L147.90,635.70 L148.10,635.70 L148.30,635.70 L148.50,635.70 L148.70,635.70 L148.90,635.70 L149.10,635.70 L149.30,635.70 L149.50,635.69 L149.70,635.68 L149.90,635.66 L150.10,635.62 L150.30,635.53 L150.50,635.37 L150.70,635.09 L150.90,634.64 L151.10,633.98 L151.30,633.07 L151.50,631.93 L151.70,630.63 L151.90,629.29 L152.10,628.09 L152.30,627.21 L152.50,626.80 L152.70,626.93 L152.90,627.59 L153.10,628.64 L153.30,629.92 L153.50,631.24 L153.70,632.45 L153.90,633.44 L154.10,634.17 L154.30,634.65 L154.50,634.91 L154.70,635.00 L154.90,634.96 L155.10,634.81 L155.30,634.58 L155.50,634.26 L155.70,633.87 L155.90,633.40 L156.10,632.86 L156.30,632.23 L156.50,631.53 L156.70,630.77 L156.90,629.95 L157.10,629.11 L157.30,628.25 L157.50,627.41 L157.70,626.62 L157.90,625.90 L158.10,625.29 L158.30,624.81 L158.50,624.48 L158.70,624.31 L158.90,624.32 L159.10,624.50 L159.30,624.85 L159.50,625.35 L159.70,625.97 L159.90,626.69 L160.10,627.49 L160.30,628.33 L160.50,629.18 L160.70,630.01 L160.90,630.80 L161.10,631.52 L161.30,632.16 L161.50,632.70 L161.70,633.13 L161.90,633.43 L162.10,633.57 L162.30,633.56 L162.50,633.36 L162.70,632.95 L162.90,632.32 L163.10,631.46 L163.30,630.35 L163.50,629.01 L163.70,627.45 L163.90,625.71 L164.10,623.87 L164.30,621.99 L164.50,620.17 L164.70,618.52 L164.90,617.14 L165.10,616.11 L165.30,615.52 L165.50,615.40 L165.70,615.75 L165.90,616.57 L166.10,617.78 L166.30,619.31 L166.50,621.06 L166.70,622.93 L166.90,624.82 L167.10,626.64 L167.30,628.33 L167.50,629.83 L167.70,631.12 L167.90,632.19 L168.10,633.03 L168.30,633.67 L168.50,634.10 L168.70,634.36 L168.90,634.44 L169.10,634.34 L169.30,634.08 L169.50,633.63 L169.70,632.99 L169.90,632.15 L170.10,631.12 L170.30,629.91 L170.50,628.55 L170.70,627.10 L170.90,625.63 L171.10,624.21 L171.30,622.96 L171.50,621.94 L171.70,621.24 L171.90,620.91 L172.10,620.98 L172.30,621.42 L172.50,622.19 L172.70,623.22 L172.90,624.41 L173.10,625.66 L173.30,626.86 L173.50,627.91 L173.70,628.74 L173.90,629.29 L174.10,629.50 L174.30,629.35 L174.50,628.85 L174.70,627.98 L174.90,626.78 L175.10,625.26 L175.30,623.47 L175.50,621.45 L175.70,619.27 L175.90,617.00 L176.10,614.72 L176.30,612.50 L176.50,610.45 L176.70,608.65 L176.90,607.17 L177.10,606.09 L177.30,605.45 L177.50,605.28 L177.70,605.60 L177.90,606.38 L178.10,607.58 L178.30,609.15 L178.50,611.01 L178.70,613.07 L178.90,615.27 L179.10,617.51 L179.30,619.71 L179.50,621.81 L179.70,623.76 L179.90,625.50 L180.10,627.02 L180.30,628.29 L180.50,629.29 L180.70,630.01 L180.90,630.44 L181.10,630.56 L181.30,630.34 L181.50,629.76 L181.70,628.79 L181.90,627.40 L182.10,625.56 L182.30,623.27 L182.50,620.54 L182.70,617.42 L182.90,613.99 L183.10,610.36 L183.30,606.69 L183.50,603.15 L183.70,599.95 L183.90,597.28 L184.10,595.30 L184.30,594.15 L184.50,593.90 L184.70,594.57 L184.90,596.12 L185.10,598.43 L185.30,601.36 L185.50,604.72 L185.70,608.32 L185.90,611.97 L186.10,615.50 L186.30,618.78 L186.50,621.71 L186.70,624.23 L186.90,626.32 L187.10,627.97 L187.30,629.21 L187.50,630.06 L187.70,630.55 L187.90,630.72 L188.10,630.58 L188.30,630.16 L188.50,629.46 L188.70,628.49 L188.90,627.26 L189.10,625.76 L189.30,624.02 L189.50,622.07 L189.70,619.95 L189.90,617.72 L190.10,615.46 L190.30,613.25 L190.50,611.18 L190.70,609.36 L190.90,607.88 L191.10,606.80 L191.30,606.20 L191.50,606.11 L191.70,606.53 L191.90,607.44 L192.10,608.80 L192.30,610.54 L192.50,612.56 L192.70,614.78 L192.90,617.10 L193.10,619.41 L193.30,621.65 L193.50,623.75 L193.70,625.64 L193.90,627.30 L194.10,628.69 L194.30,629.82 L194.50,630.66 L194.70,631.23 L194.90,631.53 L195.10,631.55 L195.30,631.29 L195.50,630.76 L195.70,629.96 L195.90,628.90 L196.10,627.57 L196.30,626.02 L196.50,624.27 L196.70,622.39 L196.90,620.43 L197.10,618.49 L197.30,616.65 L197.50,615.00 L197.70,613.65 L197.90,612.66 L198.10,612.09 L198.30,611.99 L198.50,612.35 L198.70,613.16 L198.90,614.36 L199.10,615.87 L199.30,617.60 L199.50,619.45 L199.70,621.32 L199.90,623.11 L200.10,624.73 L200.30,626.10 L200.50,627.17 L200.70,627.90 L200.90,628.26 L201.10,628.24 L201.30,627.85 L201.50,627.10 L201.70,626.02 L201.90,624.65 L202.10,623.05 L202.30,621.28 L202.50,619.41 L202.70,617.53 L202.90,615.71 L203.10,614.05 L203.30,612.62 L203.50,611.50 L203.70,610.74 L203.90,610.39 L204.10,610.46 L204.30,610.95 L204.50,611.83 L204.70,613.05 L204.90,614.55 L205.10,616.26 L205.30,618.09 L205.50,619.97 L205.70,621.83 L205.90,623.59 L206.10,625.20 L206.30,626.62 L206.50,627.81 L206.70,628.75 L206.90,629.44 L207.10,629.87 L207.30,630.03 L207.50,629.95 L207.70,629.62 L207.90,629.07 L208.10,628.30 L208.30,627.34 L208.50,626.22 L208.70,624.97 L208.90,623.62 L209.10,622.22 L209.30,620.82 L209.50,619.46 L209.70,618.21 L209.90,617.10 L210.10,616.19 L210.30,615.51 L210.50,615.10 L210.70,614.98 L210.90,615.14 L211.10,615.57 L211.30,616.26 L211.50,617.17 L211.70,618.26 L211.90,619.47 L212.10,620.78 L212.30,622.11 L212.50,623.44 L212.70,624.71 L212.90,625.91 L213.10,626.99 L213.30,627.95 L213.50,628.78 L213.70,629.46 L213.90,630.00 L214.10,630.39 L214.30,630.63 L214.50,630.73 L214.70,630.67 L214.90,630.45 L215.10,630.07 L215.30,629.53 L215.50,628.84 L215.70,628.01 L215.90,627.07 L216.10,626.04 L216.30,624.99 L216.50,623.97 L216.70,623.03 L216.90,622.25 L217.10,621.68 L217.30,621.35 L217.50,621.31 L217.70,621.55 L217.90,622.05 L218.10,622.79 L218.30,623.71 L218.50,624.76 L218.70,625.86 L218.90,626.97 L219.10,628.03 L219.30,629.00 L219.50,629.85 L219.70,630.57 L219.90,631.16 L220.10,631.61 L220.30,631.94 L220.50,632.16 L220.70,632.29 L220.90,632.32 L221.10,632.28 L221.30,632.17 L221.50,631.99 L221.70,631.75 L221.90,631.45 L222.10,631.10 L222.30,630.70 L222.50,630.25 L222.70,629.77 L222.90,629.27 L223.10,628.77 L223.30,628.27 L223.50,627.79 L223.70,627.37 L223.90,627.00 L224.10,626.71 L224.30,626.51 L224.50,626.41 L224.70,626.42 L224.90,626.53 L225.10,626.75 L225.30,627.06 L225.50,627.46 L225.70,627.93 L225.90,628.46 L226.10,629.01 L226.30,629.59 L226.50,630.16 L226.70,630.72 L226.90,631.25 L227.10,631.74 L227.30,632.17 L227.50,632.55 L227.70,632.86 L227.90,633.08 L228.10,633.21 L228.30,633.24 L228.50,633.15 L228.70,632.93 L228.90,632.58 L229.10,632.10 L229.30,631.53 L229.50,630.90 L229.70,630.27 L229.90,629.71 L230.10,629.27 L230.30,629.03 L230.50,629.00 L230.70,629.20 L230.90,629.61 L231.10,630.19 L231.30,630.87 L231.50,631.59 L231.70,632.30 L231.90,632.94 L232.10,633.49 L232.30,633.94 L232.50,634.28 L232.70,634.54 L232.90,634.72 L233.10,634.85 L233.30,634.93 L233.50,634.99 L233.70,635.03 L233.90,635.06 L234.10,635.07 L234.30,635.08 L234.50,635.06 L234.70,635.03 L234.90,634.97 L235.10,634.87 L235.30,634.74 L235.50,634.58 L235.70,634.40 L235.90,634.23 L236.10,634.09 L236.30,634.01 L236.50,634.01 L236.70,634.08 L236.90,634.22 L237.10,634.40 L237.30,634.61 L237.50,634.80 L237.70,634.98 L237.90,635.12 L238.10,635.22 L238.30,635.30 L238.50,635.35 L238.70,635.38 L238.90,635.40 L239.10,635.41 L239.30,635.42 L239.50,635.43 L239.70,635.44 L239.90,635.44 L240.10,635.44 L240.30,635.43 L240.50,635.41 L240.70,635.37 L240.90,635.30 L241.10,635.20 L241.30,635.04 L241.50,634.82 L241.70,634.53 L241.90,634.18 L242.10,633.76 L242.30,633.31 L242.50,632.85 L242.70,632.45 L242.90,632.13 L243.10,631.94 L243.30,631.90 L243.50,632.02 L243.70,632.28 L243.90,632.66 L244.10,633.10 L244.30,633.56 L244.50,634.00 L244.70,634.39 L244.90,634.72 L245.10,634.98 L245.30,635.18 L245.50,635.31 L245.70,635.40 L245.90,635.46 L246.10,635.50 L246.30,635.52 L246.50,635.53 L246.70,635.54 L246.90,635.54 L247.10,635.54 L247.30,635.55 L247.50,635.55 L247.70,635.55 L247.90,635.55 L248.10,635.56 L248.30,635.56 L248.50,635.56 L248.70,635.57 L248.90,635.57 L249.10,635.57 L249.30,635.58 L249.50,635.58 L249.70,635.58 L249.90,635.59 L250.10,635.59 L250.30,635.60 L250.50,635.60 L250.70,635.60 L250.90,635.61 L251.10,635.61 L251.30,635.62 L251.50,635.62 L251.70,635.62 L251.90,635.63 L252.10,635.63 L252.30,635.64 L252.50,635.70" fill="none" stroke="#6c6c6c" stroke-width="1.15" stroke-linejoin="round"/>
<path d="M550.30,123.60 L550.50,118.12 L550.70,116.43 L550.90,114.79 L551.10,113.44 L551.30,112.61 L551.50,112.43 L551.70,112.95 L551.90,114.06 L552.10,115.58 L552.30,117.28 L552.50,118.93 L552.70,120.37 L552.90,121.52 L553.10,122.35 L553.30,122.92 L553.50,123.28 L553.70,123.48 L553.90,123.60 L554.10,123.65 L554.30,123.68 L554.50,123.69 L554.70,123.70 L554.90,123.70 L555.10,123.70 L555.30,123.70 L555.50,123.69 L555.70,123.68 L555.90,123.67 L556.10,123.65 L556.30,123.61 L556.50,123.56 L556.70,123.49 L556.90,123.39 L557.10,123.25 L557.30,123.08 L557.50,122.87 L557.70,122.63 L557.90,122.38 L558.10,122.12 L558.30,121.89 L558.50,121.69 L558.70,121.56 L558.90,121.50 L559.10,121.52 L559.30,121.62 L559.50,121.79 L559.70,122.00 L559.90,122.25 L560.10,122.51 L560.30,122.75 L560.50,122.98 L560.70,123.17 L560.90,123.32 L561.10,123.44 L561.30,123.53 L561.50,123.59 L561.70,123.63 L561.90,123.66 L562.10,123.68 L562.30,123.69 L562.50,123.69 L562.70,123.69 L562.90,123.68 L563.10,123.66 L563.30,123.62 L563.50,123.56 L563.70,123.46 L563.90,123.32 L564.10,123.11 L564.30,122.85 L564.50,122.51 L564.70,122.13 L564.90,121.73 L565.10,121.34 L565.30,121.02 L565.50,120.79 L565.70,120.70 L565.90,120.75 L566.10,120.95 L566.30,121.25 L566.50,121.62 L566.70,122.03 L566.90,122.42 L567.10,122.76 L567.30,123.05 L567.50,123.27 L567.70,123.43 L567.90,123.53 L568.10,123.60 L568.30,123.63 L568.50,123.64 L568.70,123.62 L568.90,123.57 L569.10,123.46 L569.30,123.29 L569.50,123.03 L569.70,122.64 L569.90,122.11 L570.10,121.42 L570.30,120.59 L570.50,119.66 L570.70,118.70 L570.90,117.81 L571.10,117.09 L571.30,116.63 L571.50,116.50 L571.70,116.71 L571.90,117.24 L572.10,118.01 L572.30,118.93 L572.50,119.89 L572.70,120.80 L572.90,121.60 L573.10,122.25 L573.30,122.74 L573.50,123.10 L573.70,123.34 L573.90,123.50 L574.10,123.59 L574.30,123.64 L574.50,123.67 L574.70,123.68 L574.90,123.68 L575.10,123.66 L575.30,123.62 L575.50,123.55 L575.70,123.42 L575.90,123.20 L576.10,122.86 L576.30,122.38 L576.50,121.75 L576.70,120.99 L576.90,120.17 L577.10,119.37 L577.30,118.71 L577.50,118.30 L577.70,118.20 L577.90,118.43 L578.10,118.94 L578.30,119.63 L578.50,120.39 L578.70,121.11 L578.90,121.69 L579.10,122.08 L579.30,122.28 L579.50,122.29 L579.70,122.12 L579.90,121.79 L580.10,121.32 L580.30,120.71 L580.50,119.99 L580.70,119.15 L580.90,118.20 L581.10,117.17 L581.30,116.06 L581.50,114.92 L581.70,113.78 L581.90,112.67 L582.10,111.65 L582.30,110.75 L582.50,110.01 L582.70,109.48 L582.90,109.17 L583.10,109.10 L583.30,109.27 L583.50,109.68 L583.70,110.30 L583.90,111.11 L584.10,112.06 L584.30,113.11 L584.50,114.22 L584.70,115.34 L584.90,116.44 L585.10,117.48 L585.30,118.43 L585.50,119.27 L585.70,119.99 L585.90,120.58 L586.10,121.03 L586.30,121.33 L586.50,121.50 L586.70,121.53 L586.90,121.41 L587.10,121.16 L587.30,120.78 L587.50,120.27 L587.70,119.63 L587.90,118.88 L588.10,118.03 L588.30,117.11 L588.50,116.13 L588.70,115.13 L588.90,114.15 L589.10,113.22 L589.30,112.39 L589.50,111.69 L589.70,111.16 L589.90,110.82 L590.10,110.69 L590.30,110.78 L590.50,111.08 L590.70,111.58 L590.90,112.25 L591.10,113.05 L591.30,113.96 L591.50,114.93 L591.70,115.91 L591.90,116.88 L592.10,117.79 L592.30,118.61 L592.50,119.32 L592.70,119.90 L592.90,120.33 L593.10,120.60 L593.30,120.70 L593.50,120.64 L593.70,120.40 L593.90,120.00 L594.10,119.43 L594.30,118.71 L594.50,117.84 L594.70,116.87 L594.90,115.80 L595.10,114.68 L595.30,113.55 L595.50,112.45 L595.70,111.43 L595.90,110.53 L596.10,109.79 L596.30,109.26 L596.50,108.95 L596.70,108.90 L596.90,109.08 L597.10,109.51 L597.30,110.16 L597.50,110.99 L597.70,111.97 L597.90,113.05 L598.10,114.18 L598.30,115.33 L598.50,116.45 L598.70,117.51 L598.90,118.46 L599.10,119.29 L599.30,119.99 L599.50,120.53 L599.70,120.90 L599.90,121.10 L600.10,121.14 L600.30,121.00 L600.50,120.69 L600.70,120.22 L600.90,119.60 L601.10,118.86 L601.30,118.02 L601.50,117.12 L601.70,116.20 L601.90,115.30 L602.10,114.47 L602.30,113.77 L602.50,113.24 L602.70,112.91 L602.90,112.79 L603.10,112.91 L603.30,113.25 L603.50,113.78 L603.70,114.48 L603.90,115.31 L604.10,116.21 L604.30,117.13 L604.50,118.04 L604.70,118.90 L604.90,119.66 L605.10,120.31 L605.30,120.83 L605.50,121.22 L605.70,121.45 L605.90,121.53 L606.10,121.47 L606.30,121.26 L606.50,120.90 L606.70,120.40 L606.90,119.78 L607.10,119.03 L607.30,118.19 L607.50,117.27 L607.70,116.30 L607.90,115.33 L608.10,114.39 L608.30,113.53 L608.50,112.79 L608.70,112.20 L608.90,111.80 L609.10,111.61 L609.30,111.64 L609.50,111.88 L609.70,112.33 L609.90,112.94 L610.10,113.70 L610.30,114.55 L610.50,115.45 L610.70,116.36 L610.90,117.25 L611.10,118.08 L611.30,118.82 L611.50,119.45 L611.70,119.96 L611.90,120.35 L612.10,120.61 L612.30,120.75 L612.50,120.77 L612.70,120.68 L612.90,120.48 L613.10,120.20 L613.30,119.83 L613.50,119.38 L613.70,118.88 L613.90,118.34 L614.10,117.76 L614.30,117.18 L614.50,116.61 L614.70,116.07 L614.90,115.58 L615.10,115.17 L615.30,114.84 L615.50,114.62 L615.70,114.50 L615.90,114.50 L616.10,114.61 L616.30,114.83 L616.50,115.15 L616.70,115.54 L616.90,116.00 L617.10,116.51 L617.30,117.04 L617.50,117.58 L617.70,118.11 L617.90,118.62 L618.10,119.09 L618.30,119.52 L618.50,119.90 L618.70,120.24 L618.90,120.52 L619.10,120.76 L619.30,120.96 L619.50,121.11 L619.70,121.24 L619.90,121.34 L620.10,121.41 L620.30,121.47 L620.50,121.52 L620.70,121.55 L620.90,121.58 L621.10,121.60 L621.30,121.62 L621.50,121.64 L621.70,121.66 L621.90,121.67 L622.10,121.69 L622.30,121.70 L622.50,121.72 L622.70,121.74 L622.90,121.76 L623.10,121.78 L623.30,121.80 L623.50,121.83 L623.70,121.85 L623.90,121.87 L624.10,121.90 L624.30,121.91 L624.50,121.92 L624.70,121.92 L624.90,121.89 L625.10,121.81 L625.30,121.67 L625.50,121.46 L625.70,121.15 L625.90,120.76 L626.10,120.30 L626.30,119.83 L626.50,119.42 L626.70,119.12 L626.90,119.00 L627.10,119.08 L627.30,119.36 L627.50,119.79 L627.70,120.30 L627.90,120.83 L628.10,121.32 L628.30,121.73 L628.50,122.05 L628.70,122.28 L628.90,122.44 L629.10,122.55 L629.30,122.63 L629.50,122.68 L629.70,122.71 L629.90,122.75 L630.10,122.77 L630.30,122.80 L630.50,122.82 L630.70,122.85 L630.90,122.87 L631.10,122.89 L631.30,122.91 L631.50,122.93 L631.70,122.93 L631.90,122.92 L632.10,122.88 L632.30,122.80 L632.50,122.65 L632.70,122.41 L632.90,122.06 L633.10,121.60 L633.30,121.04 L633.50,120.42 L633.70,119.83 L633.90,119.35 L634.10,119.05 L634.30,119.00 L634.50,119.21 L634.70,119.63 L634.90,120.21 L635.10,120.85 L635.30,121.47 L635.50,122.02 L635.70,122.46 L635.90,122.78 L636.10,123.00 L636.30,123.14 L636.50,123.23 L636.70,123.28 L636.90,123.32 L637.10,123.34 L637.30,123.35 L637.50,123.36 L637.70,123.37 L637.90,123.38 L638.10,123.40 L638.30,123.41 L638.50,123.42 L638.70,123.43 L638.90,123.44 L639.10,123.44 L639.30,123.45 L639.50,123.46 L639.70,123.47 L639.90,123.48 L640.10,123.49 L640.30,123.50 L640.50,123.51 L640.70,123.52 L640.90,123.53 L641.10,123.54 L641.30,123.55 L641.50,123.56 L641.70,123.57 L641.90,123.57 L642.10,123.58 L642.30,123.59 L642.50,123.60 L642.70,123.60 L643.00,124.00" fill="none" stroke="#6c6c6c" stroke-width="1.15" stroke-linejoin="round"/>
<path d="M549.90,284.40 L550.10,281.41 L550.30,279.99 L550.50,278.27 L550.70,276.41 L550.90,274.61 L551.10,273.13 L551.30,272.21 L551.50,272.02 L551.70,272.59 L551.90,273.81 L552.10,275.48 L552.30,277.35 L552.50,279.16 L552.70,280.74 L552.90,282.00 L553.10,282.92 L553.30,283.54 L553.50,283.93 L553.70,284.16 L553.90,284.29 L554.10,284.35 L554.30,284.38 L554.50,284.39 L554.70,284.40 L554.90,284.40 L555.10,284.40 L555.30,284.40 L555.50,284.40 L555.70,284.40 L555.90,284.40 L556.10,284.40 L556.30,284.40 L556.50,284.40 L556.70,284.40 L556.90,284.39 L557.10,284.38 L557.30,284.35 L557.50,284.31 L557.70,284.25 L557.90,284.14 L558.10,283.99 L558.30,283.80 L558.50,283.56 L558.70,283.31 L558.90,283.06 L559.10,282.86 L559.30,282.73 L559.50,282.70 L559.70,282.78 L559.90,282.94 L560.10,283.17 L560.30,283.43 L560.50,283.68 L560.70,283.89 L560.90,284.07 L561.10,284.20 L561.30,284.28 L561.50,284.34 L561.70,284.37 L561.90,284.38 L562.10,284.39 L562.30,284.40 L562.50,284.40 L562.70,284.40 L562.90,284.39 L563.10,284.39 L563.30,284.37 L563.50,284.34 L563.70,284.29 L563.90,284.21 L564.10,284.08 L564.30,283.89 L564.50,283.65 L564.70,283.36 L564.90,283.05 L565.10,282.74 L565.30,282.49 L565.50,282.33 L565.70,282.30 L565.90,282.40 L566.10,282.60 L566.30,282.89 L566.50,283.20 L566.70,283.51 L566.90,283.78 L567.10,283.99 L567.30,284.15 L567.50,284.25 L567.70,284.32 L567.90,284.36 L568.10,284.38 L568.30,284.39 L568.50,284.39 L568.70,284.40 L568.90,284.39 L569.10,284.38 L569.30,284.36 L569.50,284.32 L569.70,284.24 L569.90,284.10 L570.10,283.88 L570.30,283.55 L570.50,283.08 L570.70,282.47 L570.90,281.73 L571.10,280.91 L571.30,280.08 L571.50,279.36 L571.70,278.84 L571.90,278.60 L572.10,278.68 L572.30,279.07 L572.50,279.70 L572.70,280.49 L572.90,281.32 L573.10,282.11 L573.30,282.79 L573.50,283.33 L573.70,283.73 L573.90,284.00 L574.10,284.18 L574.30,284.28 L574.50,284.34 L574.70,284.37 L574.90,284.38 L575.10,284.39 L575.30,284.38 L575.50,284.37 L575.70,284.33 L575.90,284.26 L576.10,284.14 L576.30,283.94 L576.50,283.64 L576.70,283.20 L576.90,282.63 L577.10,281.94 L577.30,281.19 L577.50,280.47 L577.70,279.87 L577.90,279.49 L578.10,279.40 L578.30,279.61 L578.50,280.06 L578.70,280.69 L578.90,281.38 L579.10,282.02 L579.30,282.55 L579.50,282.91 L579.70,283.09 L579.90,283.11 L580.10,282.97 L580.30,282.71 L580.50,282.33 L580.70,281.84 L580.90,281.26 L581.10,280.60 L581.30,279.85 L581.50,279.04 L581.70,278.18 L581.90,277.29 L582.10,276.39 L582.30,275.52 L582.50,274.69 L582.70,273.96 L582.90,273.34 L583.10,272.86 L583.30,272.54 L583.50,272.40 L583.70,272.43 L583.90,272.65 L584.10,273.04 L584.30,273.58 L584.50,274.24 L584.70,275.01 L584.90,275.84 L585.10,276.72 L585.30,277.60 L585.50,278.46 L585.70,279.27 L585.90,280.02 L586.10,280.69 L586.30,281.27 L586.50,281.76 L586.70,282.14 L586.90,282.41 L587.10,282.58 L587.30,282.64 L587.50,282.59 L587.70,282.43 L587.90,282.15 L588.10,281.76 L588.30,281.25 L588.50,280.64 L588.70,279.91 L588.90,279.10 L589.10,278.21 L589.30,277.27 L589.50,276.31 L589.70,275.37 L589.90,274.47 L590.10,273.66 L590.30,272.99 L590.50,272.47 L590.70,272.13 L590.90,272.00 L591.10,272.07 L591.30,272.35 L591.50,272.83 L591.70,273.47 L591.90,274.24 L592.10,275.11 L592.30,276.05 L592.50,277.00 L592.70,277.94 L592.90,278.83 L593.10,279.64 L593.30,280.36 L593.50,280.95 L593.70,281.42 L593.90,281.75 L594.10,281.94 L594.30,281.98 L594.50,281.86 L594.70,281.59 L594.90,281.17 L595.10,280.60 L595.30,279.89 L595.50,279.05 L595.70,278.10 L595.90,277.06 L596.10,275.97 L596.30,274.87 L596.50,273.79 L596.70,272.78 L596.90,271.89 L597.10,271.17 L597.30,270.65 L597.50,270.35 L597.70,270.29 L597.90,270.48 L598.10,270.91 L598.30,271.55 L598.50,272.38 L598.70,273.34 L598.90,274.41 L599.10,275.52 L599.30,276.64 L599.50,277.72 L599.70,278.73 L599.90,279.64 L600.10,280.43 L600.30,281.08 L600.50,281.59 L600.70,281.93 L600.90,282.12 L601.10,282.15 L601.30,282.02 L601.50,281.73 L601.70,281.30 L601.90,280.73 L602.10,280.04 L602.30,279.25 L602.50,278.39 L602.70,277.50 L602.90,276.60 L603.10,275.75 L603.30,275.00 L603.50,274.37 L603.70,273.91 L603.90,273.65 L604.10,273.60 L604.30,273.76 L604.50,274.12 L604.70,274.66 L604.90,275.36 L605.10,276.16 L605.30,277.03 L605.50,277.92 L605.70,278.79 L605.90,279.61 L606.10,280.33 L606.30,280.94 L606.50,281.41 L606.70,281.74 L606.90,281.92 L607.10,281.94 L607.30,281.82 L607.50,281.56 L607.70,281.17 L607.90,280.67 L608.10,280.08 L608.30,279.42 L608.50,278.71 L608.70,278.00 L608.90,277.31 L609.10,276.68 L609.30,276.13 L609.50,275.71 L609.70,275.42 L609.90,275.30 L610.10,275.33 L610.30,275.53 L610.50,275.88 L610.70,276.36 L610.90,276.94 L611.10,277.60 L611.30,278.29 L611.50,278.99 L611.70,279.68 L611.90,280.31 L612.10,280.87 L612.30,281.34 L612.50,281.72 L612.70,281.99 L612.90,282.16 L613.10,282.22 L613.30,282.18 L613.50,282.05 L613.70,281.83 L613.90,281.53 L614.10,281.15 L614.30,280.72 L614.50,280.24 L614.70,279.72 L614.90,279.17 L615.10,278.61 L615.30,278.05 L615.50,277.51 L615.70,276.99 L615.90,276.53 L616.10,276.12 L616.30,275.79 L616.50,275.53 L616.70,275.37 L616.90,275.30 L617.10,275.33 L617.30,275.46 L617.50,275.68 L617.70,275.99 L617.90,276.37 L618.10,276.82 L618.30,277.31 L618.50,277.85 L618.70,278.41 L618.90,278.98 L619.10,279.55 L619.30,280.10 L619.50,280.61 L619.70,281.09 L619.90,281.51 L620.10,281.86 L620.30,282.12 L620.50,282.29 L620.70,282.35 L620.90,282.28 L621.10,282.08 L621.30,281.77 L621.50,281.36 L621.70,280.88 L621.90,280.39 L622.10,279.95 L622.30,279.61 L622.50,279.41 L622.70,279.40 L622.90,279.57 L623.10,279.92 L623.30,280.40 L623.50,280.97 L623.70,281.56 L623.90,282.14 L624.10,282.65 L624.30,283.08 L624.50,283.40 L624.70,283.61 L624.90,283.71 L625.10,283.70 L625.30,283.60 L625.50,283.39 L625.70,283.08 L625.90,282.67 L626.10,282.16 L626.30,281.55 L626.50,280.86 L626.70,280.11 L626.90,279.32 L627.10,278.53 L627.30,277.78 L627.50,277.13 L627.70,276.61 L627.90,276.26 L628.10,276.10 L628.30,276.15 L628.50,276.40 L628.70,276.83 L628.90,277.42 L629.10,278.11 L629.30,278.88 L629.50,279.67 L629.70,280.44 L629.90,281.16 L630.10,281.81 L630.30,282.37 L630.50,282.85 L630.70,283.23 L630.90,283.53 L631.10,283.75 L631.30,283.92 L631.50,284.03 L631.70,284.11 L631.90,284.16 L632.10,284.18 L632.30,284.18 L632.50,284.16 L632.70,284.11 L632.90,284.03 L633.10,283.91 L633.30,283.74 L633.50,283.52 L633.70,283.23 L633.90,282.86 L634.10,282.42 L634.30,281.91 L634.50,281.34 L634.70,280.74 L634.90,280.12 L635.10,279.54 L635.30,279.02 L635.50,278.60 L635.70,278.32 L635.90,278.20 L636.10,278.24 L636.30,278.45 L636.50,278.81 L636.70,279.29 L636.90,279.86 L637.10,280.47 L637.30,281.09 L637.50,281.68 L637.70,282.23 L637.90,282.71 L638.10,283.12 L638.30,283.45 L638.50,283.72 L638.70,283.92 L638.90,284.07 L639.10,284.17 L639.30,284.24 L639.50,284.29 L639.70,284.32 L639.90,284.34 L640.10,284.35 L640.30,284.35 L640.50,284.33 L640.70,284.29 L640.90,284.23 L641.10,284.14 L641.30,284.01 L641.50,283.85 L641.70,283.66 L641.90,283.46 L642.10,283.29 L642.30,283.16 L642.50,283.10 L642.70,283.12 L642.90,283.21 L643.10,283.37 L643.30,283.56 L643.50,283.75 L643.70,283.93 L643.90,284.08 L644.10,284.20 L644.30,284.28 L644.50,284.33 L644.70,284.36 L644.90,284.38 L645.10,284.39 L645.30,284.40 L645.50,284.40 L645.70,284.40 L645.90,284.40 L646.10,284.40 L646.30,284.40 L646.50,284.40 L646.70,284.40 L646.90,284.40 L647.10,284.40 L647.30,284.40 L647.50,284.40 L647.70,284.40 L647.90,284.40 L648.10,284.40 L648.30,284.40 L648.50,284.40 L648.70,284.40 L648.90,284.40 L649.10,284.40 L649.30,284.40 L649.50,284.40 L649.70,284.40 L649.90,284.40 L650.10,284.40 L650.30,284.40 L650.50,284.40 L650.70,284.40 L650.90,284.40 L651.10,284.40 L651.30,284.40 L651.50,284.40 L651.70,284.40 L651.90,284.40 L652.10,284.40" fill="none" stroke="#6c6c6c" stroke-width="1.15" stroke-linejoin="round"/>
<rect x="66.39999999999999" y="275.40000000000003" width="1.8" height="1.8" fill="#777"/>
<rect x="123.3" y="275.70000000000005" width="1.8" height="1.8" fill="#777"/>
<rect x="126.19999999999999" y="275.70000000000005" width="1.8" height="1.8" fill="#777"/>
<rect x="73.69999999999999" y="634.7" width="1.8" height="1.8" fill="#777"/>
<rect x="110.6" y="633.9" width="1.8" height="1.8" fill="#777"/>
<rect x="120.89999999999999" y="633.9" width="1.8" height="1.8" fill="#777"/>
<rect x="129.6" y="633.9" width="1.8" height="1.8" fill="#777"/>
<rect x="137.29999999999998" y="634.3000000000001" width="1.8" height="1.8" fill="#777"/>
<rect x="268.6" y="634.3000000000001" width="1.8" height="1.8" fill="#777"/>
<rect x="518.8000000000001" y="119.6" width="1.8" height="1.8" fill="#777"/>
<rect x="671.7" y="119.6" width="1.8" height="1.8" fill="#777"/>
<rect x="647.9" y="122.69999999999999" width="1.8" height="1.8" fill="#777"/>
<rect x="652.1" y="122.19999999999999" width="1.8" height="1.8" fill="#777"/>
<rect x="653.7" y="282.70000000000005" width="1.8" height="1.8" fill="#777"/>
<polygon points="124.1,72.9 146.2,72.9 146.2,68.1 155.3,76.9 146.2,85.7 146.2,80.8 124.1,80.8" fill="#1c1c1c"/>
<polygon points="122.9,199.4 145.3,199.4 145.3,194.8 154.4,203.5 145.3,212.3 145.3,207.7 122.9,207.7" fill="#1c1c1c"/>
<polygon points="124.4,357.9 147.0,357.9 147.0,353.2 155.9,362.0 147.0,370.8 147.0,365.9 124.4,365.9" fill="#1c1c1c"/>
<polygon points="102.1,232.9 121.2,232.9 121.2,227.2 133.0,238.7 121.2,250.5 121.2,244.1 102.1,244.1" fill="#1c1c1c"/>
<polygon points="105.1,236.6 124.0,236.6 128.3,239.0 124.0,241.4 105.1,241.4" fill="#fff"/>
<polygon points="99.3,424.6 119.2,424.6 119.2,418.6 131.0,430.4 119.2,441.9 119.2,435.5 99.3,435.5" fill="#1c1c1c"/>
<polygon points="102.8,427.7 122.0,427.7 126.2,430.25 122.0,432.8 102.8,432.8" fill="#fff"/>
</svg></body></html>
